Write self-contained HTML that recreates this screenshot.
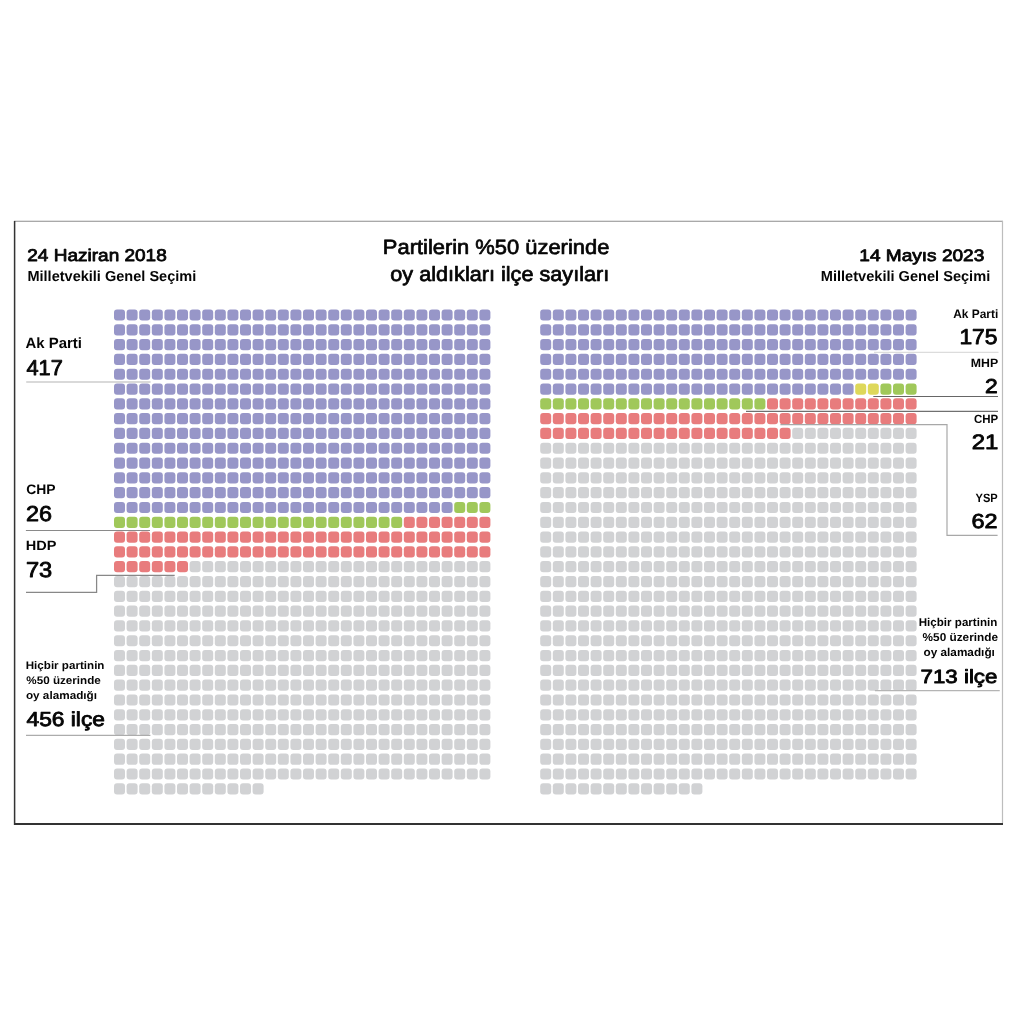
<!DOCTYPE html><html><head><meta charset="utf-8"><style>
html,body{margin:0;padding:0;background:#fff;}
svg{display:block;}
g.t{will-change:transform}
text{font-family:"Liberation Sans",sans-serif;fill:#050505;text-rendering:geometricPrecision;}
</style></head><body>
<svg width="1024" height="1024" viewBox="0 0 1024 1024">
<defs><rect id="c" width="11.0" height="11.2" rx="3.0" ry="3.0"/></defs>
<g fill="#9796c8"><use href="#c" x="114.00" y="309.40"/><use href="#c" x="126.60" y="309.40"/><use href="#c" x="139.20" y="309.40"/><use href="#c" x="151.80" y="309.40"/><use href="#c" x="164.40" y="309.40"/><use href="#c" x="177.00" y="309.40"/><use href="#c" x="189.60" y="309.40"/><use href="#c" x="202.20" y="309.40"/><use href="#c" x="214.80" y="309.40"/><use href="#c" x="227.40" y="309.40"/><use href="#c" x="240.00" y="309.40"/><use href="#c" x="252.60" y="309.40"/><use href="#c" x="265.20" y="309.40"/><use href="#c" x="277.80" y="309.40"/><use href="#c" x="290.40" y="309.40"/><use href="#c" x="303.00" y="309.40"/><use href="#c" x="315.60" y="309.40"/><use href="#c" x="328.20" y="309.40"/><use href="#c" x="340.80" y="309.40"/><use href="#c" x="353.40" y="309.40"/><use href="#c" x="366.00" y="309.40"/><use href="#c" x="378.60" y="309.40"/><use href="#c" x="391.20" y="309.40"/><use href="#c" x="403.80" y="309.40"/><use href="#c" x="416.40" y="309.40"/><use href="#c" x="429.00" y="309.40"/><use href="#c" x="441.60" y="309.40"/><use href="#c" x="454.20" y="309.40"/><use href="#c" x="466.80" y="309.40"/><use href="#c" x="479.40" y="309.40"/><use href="#c" x="114.00" y="324.21"/><use href="#c" x="126.60" y="324.21"/><use href="#c" x="139.20" y="324.21"/><use href="#c" x="151.80" y="324.21"/><use href="#c" x="164.40" y="324.21"/><use href="#c" x="177.00" y="324.21"/><use href="#c" x="189.60" y="324.21"/><use href="#c" x="202.20" y="324.21"/><use href="#c" x="214.80" y="324.21"/><use href="#c" x="227.40" y="324.21"/><use href="#c" x="240.00" y="324.21"/><use href="#c" x="252.60" y="324.21"/><use href="#c" x="265.20" y="324.21"/><use href="#c" x="277.80" y="324.21"/><use href="#c" x="290.40" y="324.21"/><use href="#c" x="303.00" y="324.21"/><use href="#c" x="315.60" y="324.21"/><use href="#c" x="328.20" y="324.21"/><use href="#c" x="340.80" y="324.21"/><use href="#c" x="353.40" y="324.21"/><use href="#c" x="366.00" y="324.21"/><use href="#c" x="378.60" y="324.21"/><use href="#c" x="391.20" y="324.21"/><use href="#c" x="403.80" y="324.21"/><use href="#c" x="416.40" y="324.21"/><use href="#c" x="429.00" y="324.21"/><use href="#c" x="441.60" y="324.21"/><use href="#c" x="454.20" y="324.21"/><use href="#c" x="466.80" y="324.21"/><use href="#c" x="479.40" y="324.21"/><use href="#c" x="114.00" y="339.01"/><use href="#c" x="126.60" y="339.01"/><use href="#c" x="139.20" y="339.01"/><use href="#c" x="151.80" y="339.01"/><use href="#c" x="164.40" y="339.01"/><use href="#c" x="177.00" y="339.01"/><use href="#c" x="189.60" y="339.01"/><use href="#c" x="202.20" y="339.01"/><use href="#c" x="214.80" y="339.01"/><use href="#c" x="227.40" y="339.01"/><use href="#c" x="240.00" y="339.01"/><use href="#c" x="252.60" y="339.01"/><use href="#c" x="265.20" y="339.01"/><use href="#c" x="277.80" y="339.01"/><use href="#c" x="290.40" y="339.01"/><use href="#c" x="303.00" y="339.01"/><use href="#c" x="315.60" y="339.01"/><use href="#c" x="328.20" y="339.01"/><use href="#c" x="340.80" y="339.01"/><use href="#c" x="353.40" y="339.01"/><use href="#c" x="366.00" y="339.01"/><use href="#c" x="378.60" y="339.01"/><use href="#c" x="391.20" y="339.01"/><use href="#c" x="403.80" y="339.01"/><use href="#c" x="416.40" y="339.01"/><use href="#c" x="429.00" y="339.01"/><use href="#c" x="441.60" y="339.01"/><use href="#c" x="454.20" y="339.01"/><use href="#c" x="466.80" y="339.01"/><use href="#c" x="479.40" y="339.01"/><use href="#c" x="114.00" y="353.82"/><use href="#c" x="126.60" y="353.82"/><use href="#c" x="139.20" y="353.82"/><use href="#c" x="151.80" y="353.82"/><use href="#c" x="164.40" y="353.82"/><use href="#c" x="177.00" y="353.82"/><use href="#c" x="189.60" y="353.82"/><use href="#c" x="202.20" y="353.82"/><use href="#c" x="214.80" y="353.82"/><use href="#c" x="227.40" y="353.82"/><use href="#c" x="240.00" y="353.82"/><use href="#c" x="252.60" y="353.82"/><use href="#c" x="265.20" y="353.82"/><use href="#c" x="277.80" y="353.82"/><use href="#c" x="290.40" y="353.82"/><use href="#c" x="303.00" y="353.82"/><use href="#c" x="315.60" y="353.82"/><use href="#c" x="328.20" y="353.82"/><use href="#c" x="340.80" y="353.82"/><use href="#c" x="353.40" y="353.82"/><use href="#c" x="366.00" y="353.82"/><use href="#c" x="378.60" y="353.82"/><use href="#c" x="391.20" y="353.82"/><use href="#c" x="403.80" y="353.82"/><use href="#c" x="416.40" y="353.82"/><use href="#c" x="429.00" y="353.82"/><use href="#c" x="441.60" y="353.82"/><use href="#c" x="454.20" y="353.82"/><use href="#c" x="466.80" y="353.82"/><use href="#c" x="479.40" y="353.82"/><use href="#c" x="114.00" y="368.63"/><use href="#c" x="126.60" y="368.63"/><use href="#c" x="139.20" y="368.63"/><use href="#c" x="151.80" y="368.63"/><use href="#c" x="164.40" y="368.63"/><use href="#c" x="177.00" y="368.63"/><use href="#c" x="189.60" y="368.63"/><use href="#c" x="202.20" y="368.63"/><use href="#c" x="214.80" y="368.63"/><use href="#c" x="227.40" y="368.63"/><use href="#c" x="240.00" y="368.63"/><use href="#c" x="252.60" y="368.63"/><use href="#c" x="265.20" y="368.63"/><use href="#c" x="277.80" y="368.63"/><use href="#c" x="290.40" y="368.63"/><use href="#c" x="303.00" y="368.63"/><use href="#c" x="315.60" y="368.63"/><use href="#c" x="328.20" y="368.63"/><use href="#c" x="340.80" y="368.63"/><use href="#c" x="353.40" y="368.63"/><use href="#c" x="366.00" y="368.63"/><use href="#c" x="378.60" y="368.63"/><use href="#c" x="391.20" y="368.63"/><use href="#c" x="403.80" y="368.63"/><use href="#c" x="416.40" y="368.63"/><use href="#c" x="429.00" y="368.63"/><use href="#c" x="441.60" y="368.63"/><use href="#c" x="454.20" y="368.63"/><use href="#c" x="466.80" y="368.63"/><use href="#c" x="479.40" y="368.63"/><use href="#c" x="114.00" y="383.43"/><use href="#c" x="126.60" y="383.43"/><use href="#c" x="139.20" y="383.43"/><use href="#c" x="151.80" y="383.43"/><use href="#c" x="164.40" y="383.43"/><use href="#c" x="177.00" y="383.43"/><use href="#c" x="189.60" y="383.43"/><use href="#c" x="202.20" y="383.43"/><use href="#c" x="214.80" y="383.43"/><use href="#c" x="227.40" y="383.43"/><use href="#c" x="240.00" y="383.43"/><use href="#c" x="252.60" y="383.43"/><use href="#c" x="265.20" y="383.43"/><use href="#c" x="277.80" y="383.43"/><use href="#c" x="290.40" y="383.43"/><use href="#c" x="303.00" y="383.43"/><use href="#c" x="315.60" y="383.43"/><use href="#c" x="328.20" y="383.43"/><use href="#c" x="340.80" y="383.43"/><use href="#c" x="353.40" y="383.43"/><use href="#c" x="366.00" y="383.43"/><use href="#c" x="378.60" y="383.43"/><use href="#c" x="391.20" y="383.43"/><use href="#c" x="403.80" y="383.43"/><use href="#c" x="416.40" y="383.43"/><use href="#c" x="429.00" y="383.43"/><use href="#c" x="441.60" y="383.43"/><use href="#c" x="454.20" y="383.43"/><use href="#c" x="466.80" y="383.43"/><use href="#c" x="479.40" y="383.43"/><use href="#c" x="114.00" y="398.24"/><use href="#c" x="126.60" y="398.24"/><use href="#c" x="139.20" y="398.24"/><use href="#c" x="151.80" y="398.24"/><use href="#c" x="164.40" y="398.24"/><use href="#c" x="177.00" y="398.24"/><use href="#c" x="189.60" y="398.24"/><use href="#c" x="202.20" y="398.24"/><use href="#c" x="214.80" y="398.24"/><use href="#c" x="227.40" y="398.24"/><use href="#c" x="240.00" y="398.24"/><use href="#c" x="252.60" y="398.24"/><use href="#c" x="265.20" y="398.24"/><use href="#c" x="277.80" y="398.24"/><use href="#c" x="290.40" y="398.24"/><use href="#c" x="303.00" y="398.24"/><use href="#c" x="315.60" y="398.24"/><use href="#c" x="328.20" y="398.24"/><use href="#c" x="340.80" y="398.24"/><use href="#c" x="353.40" y="398.24"/><use href="#c" x="366.00" y="398.24"/><use href="#c" x="378.60" y="398.24"/><use href="#c" x="391.20" y="398.24"/><use href="#c" x="403.80" y="398.24"/><use href="#c" x="416.40" y="398.24"/><use href="#c" x="429.00" y="398.24"/><use href="#c" x="441.60" y="398.24"/><use href="#c" x="454.20" y="398.24"/><use href="#c" x="466.80" y="398.24"/><use href="#c" x="479.40" y="398.24"/><use href="#c" x="114.00" y="413.05"/><use href="#c" x="126.60" y="413.05"/><use href="#c" x="139.20" y="413.05"/><use href="#c" x="151.80" y="413.05"/><use href="#c" x="164.40" y="413.05"/><use href="#c" x="177.00" y="413.05"/><use href="#c" x="189.60" y="413.05"/><use href="#c" x="202.20" y="413.05"/><use href="#c" x="214.80" y="413.05"/><use href="#c" x="227.40" y="413.05"/><use href="#c" x="240.00" y="413.05"/><use href="#c" x="252.60" y="413.05"/><use href="#c" x="265.20" y="413.05"/><use href="#c" x="277.80" y="413.05"/><use href="#c" x="290.40" y="413.05"/><use href="#c" x="303.00" y="413.05"/><use href="#c" x="315.60" y="413.05"/><use href="#c" x="328.20" y="413.05"/><use href="#c" x="340.80" y="413.05"/><use href="#c" x="353.40" y="413.05"/><use href="#c" x="366.00" y="413.05"/><use href="#c" x="378.60" y="413.05"/><use href="#c" x="391.20" y="413.05"/><use href="#c" x="403.80" y="413.05"/><use href="#c" x="416.40" y="413.05"/><use href="#c" x="429.00" y="413.05"/><use href="#c" x="441.60" y="413.05"/><use href="#c" x="454.20" y="413.05"/><use href="#c" x="466.80" y="413.05"/><use href="#c" x="479.40" y="413.05"/><use href="#c" x="114.00" y="427.86"/><use href="#c" x="126.60" y="427.86"/><use href="#c" x="139.20" y="427.86"/><use href="#c" x="151.80" y="427.86"/><use href="#c" x="164.40" y="427.86"/><use href="#c" x="177.00" y="427.86"/><use href="#c" x="189.60" y="427.86"/><use href="#c" x="202.20" y="427.86"/><use href="#c" x="214.80" y="427.86"/><use href="#c" x="227.40" y="427.86"/><use href="#c" x="240.00" y="427.86"/><use href="#c" x="252.60" y="427.86"/><use href="#c" x="265.20" y="427.86"/><use href="#c" x="277.80" y="427.86"/><use href="#c" x="290.40" y="427.86"/><use href="#c" x="303.00" y="427.86"/><use href="#c" x="315.60" y="427.86"/><use href="#c" x="328.20" y="427.86"/><use href="#c" x="340.80" y="427.86"/><use href="#c" x="353.40" y="427.86"/><use href="#c" x="366.00" y="427.86"/><use href="#c" x="378.60" y="427.86"/><use href="#c" x="391.20" y="427.86"/><use href="#c" x="403.80" y="427.86"/><use href="#c" x="416.40" y="427.86"/><use href="#c" x="429.00" y="427.86"/><use href="#c" x="441.60" y="427.86"/><use href="#c" x="454.20" y="427.86"/><use href="#c" x="466.80" y="427.86"/><use href="#c" x="479.40" y="427.86"/><use href="#c" x="114.00" y="442.66"/><use href="#c" x="126.60" y="442.66"/><use href="#c" x="139.20" y="442.66"/><use href="#c" x="151.80" y="442.66"/><use href="#c" x="164.40" y="442.66"/><use href="#c" x="177.00" y="442.66"/><use href="#c" x="189.60" y="442.66"/><use href="#c" x="202.20" y="442.66"/><use href="#c" x="214.80" y="442.66"/><use href="#c" x="227.40" y="442.66"/><use href="#c" x="240.00" y="442.66"/><use href="#c" x="252.60" y="442.66"/><use href="#c" x="265.20" y="442.66"/><use href="#c" x="277.80" y="442.66"/><use href="#c" x="290.40" y="442.66"/><use href="#c" x="303.00" y="442.66"/><use href="#c" x="315.60" y="442.66"/><use href="#c" x="328.20" y="442.66"/><use href="#c" x="340.80" y="442.66"/><use href="#c" x="353.40" y="442.66"/><use href="#c" x="366.00" y="442.66"/><use href="#c" x="378.60" y="442.66"/><use href="#c" x="391.20" y="442.66"/><use href="#c" x="403.80" y="442.66"/><use href="#c" x="416.40" y="442.66"/><use href="#c" x="429.00" y="442.66"/><use href="#c" x="441.60" y="442.66"/><use href="#c" x="454.20" y="442.66"/><use href="#c" x="466.80" y="442.66"/><use href="#c" x="479.40" y="442.66"/><use href="#c" x="114.00" y="457.47"/><use href="#c" x="126.60" y="457.47"/><use href="#c" x="139.20" y="457.47"/><use href="#c" x="151.80" y="457.47"/><use href="#c" x="164.40" y="457.47"/><use href="#c" x="177.00" y="457.47"/><use href="#c" x="189.60" y="457.47"/><use href="#c" x="202.20" y="457.47"/><use href="#c" x="214.80" y="457.47"/><use href="#c" x="227.40" y="457.47"/><use href="#c" x="240.00" y="457.47"/><use href="#c" x="252.60" y="457.47"/><use href="#c" x="265.20" y="457.47"/><use href="#c" x="277.80" y="457.47"/><use href="#c" x="290.40" y="457.47"/><use href="#c" x="303.00" y="457.47"/><use href="#c" x="315.60" y="457.47"/><use href="#c" x="328.20" y="457.47"/><use href="#c" x="340.80" y="457.47"/><use href="#c" x="353.40" y="457.47"/><use href="#c" x="366.00" y="457.47"/><use href="#c" x="378.60" y="457.47"/><use href="#c" x="391.20" y="457.47"/><use href="#c" x="403.80" y="457.47"/><use href="#c" x="416.40" y="457.47"/><use href="#c" x="429.00" y="457.47"/><use href="#c" x="441.60" y="457.47"/><use href="#c" x="454.20" y="457.47"/><use href="#c" x="466.80" y="457.47"/><use href="#c" x="479.40" y="457.47"/><use href="#c" x="114.00" y="472.28"/><use href="#c" x="126.60" y="472.28"/><use href="#c" x="139.20" y="472.28"/><use href="#c" x="151.80" y="472.28"/><use href="#c" x="164.40" y="472.28"/><use href="#c" x="177.00" y="472.28"/><use href="#c" x="189.60" y="472.28"/><use href="#c" x="202.20" y="472.28"/><use href="#c" x="214.80" y="472.28"/><use href="#c" x="227.40" y="472.28"/><use href="#c" x="240.00" y="472.28"/><use href="#c" x="252.60" y="472.28"/><use href="#c" x="265.20" y="472.28"/><use href="#c" x="277.80" y="472.28"/><use href="#c" x="290.40" y="472.28"/><use href="#c" x="303.00" y="472.28"/><use href="#c" x="315.60" y="472.28"/><use href="#c" x="328.20" y="472.28"/><use href="#c" x="340.80" y="472.28"/><use href="#c" x="353.40" y="472.28"/><use href="#c" x="366.00" y="472.28"/><use href="#c" x="378.60" y="472.28"/><use href="#c" x="391.20" y="472.28"/><use href="#c" x="403.80" y="472.28"/><use href="#c" x="416.40" y="472.28"/><use href="#c" x="429.00" y="472.28"/><use href="#c" x="441.60" y="472.28"/><use href="#c" x="454.20" y="472.28"/><use href="#c" x="466.80" y="472.28"/><use href="#c" x="479.40" y="472.28"/><use href="#c" x="114.00" y="487.08"/><use href="#c" x="126.60" y="487.08"/><use href="#c" x="139.20" y="487.08"/><use href="#c" x="151.80" y="487.08"/><use href="#c" x="164.40" y="487.08"/><use href="#c" x="177.00" y="487.08"/><use href="#c" x="189.60" y="487.08"/><use href="#c" x="202.20" y="487.08"/><use href="#c" x="214.80" y="487.08"/><use href="#c" x="227.40" y="487.08"/><use href="#c" x="240.00" y="487.08"/><use href="#c" x="252.60" y="487.08"/><use href="#c" x="265.20" y="487.08"/><use href="#c" x="277.80" y="487.08"/><use href="#c" x="290.40" y="487.08"/><use href="#c" x="303.00" y="487.08"/><use href="#c" x="315.60" y="487.08"/><use href="#c" x="328.20" y="487.08"/><use href="#c" x="340.80" y="487.08"/><use href="#c" x="353.40" y="487.08"/><use href="#c" x="366.00" y="487.08"/><use href="#c" x="378.60" y="487.08"/><use href="#c" x="391.20" y="487.08"/><use href="#c" x="403.80" y="487.08"/><use href="#c" x="416.40" y="487.08"/><use href="#c" x="429.00" y="487.08"/><use href="#c" x="441.60" y="487.08"/><use href="#c" x="454.20" y="487.08"/><use href="#c" x="466.80" y="487.08"/><use href="#c" x="479.40" y="487.08"/><use href="#c" x="114.00" y="501.89"/><use href="#c" x="126.60" y="501.89"/><use href="#c" x="139.20" y="501.89"/><use href="#c" x="151.80" y="501.89"/><use href="#c" x="164.40" y="501.89"/><use href="#c" x="177.00" y="501.89"/><use href="#c" x="189.60" y="501.89"/><use href="#c" x="202.20" y="501.89"/><use href="#c" x="214.80" y="501.89"/><use href="#c" x="227.40" y="501.89"/><use href="#c" x="240.00" y="501.89"/><use href="#c" x="252.60" y="501.89"/><use href="#c" x="265.20" y="501.89"/><use href="#c" x="277.80" y="501.89"/><use href="#c" x="290.40" y="501.89"/><use href="#c" x="303.00" y="501.89"/><use href="#c" x="315.60" y="501.89"/><use href="#c" x="328.20" y="501.89"/><use href="#c" x="340.80" y="501.89"/><use href="#c" x="353.40" y="501.89"/><use href="#c" x="366.00" y="501.89"/><use href="#c" x="378.60" y="501.89"/><use href="#c" x="391.20" y="501.89"/><use href="#c" x="403.80" y="501.89"/><use href="#c" x="416.40" y="501.89"/><use href="#c" x="429.00" y="501.89"/><use href="#c" x="441.60" y="501.89"/></g>
<g fill="#a0c85a"><use href="#c" x="454.20" y="501.89"/><use href="#c" x="466.80" y="501.89"/><use href="#c" x="479.40" y="501.89"/><use href="#c" x="114.00" y="516.70"/><use href="#c" x="126.60" y="516.70"/><use href="#c" x="139.20" y="516.70"/><use href="#c" x="151.80" y="516.70"/><use href="#c" x="164.40" y="516.70"/><use href="#c" x="177.00" y="516.70"/><use href="#c" x="189.60" y="516.70"/><use href="#c" x="202.20" y="516.70"/><use href="#c" x="214.80" y="516.70"/><use href="#c" x="227.40" y="516.70"/><use href="#c" x="240.00" y="516.70"/><use href="#c" x="252.60" y="516.70"/><use href="#c" x="265.20" y="516.70"/><use href="#c" x="277.80" y="516.70"/><use href="#c" x="290.40" y="516.70"/><use href="#c" x="303.00" y="516.70"/><use href="#c" x="315.60" y="516.70"/><use href="#c" x="328.20" y="516.70"/><use href="#c" x="340.80" y="516.70"/><use href="#c" x="353.40" y="516.70"/><use href="#c" x="366.00" y="516.70"/><use href="#c" x="378.60" y="516.70"/><use href="#c" x="391.20" y="516.70"/></g>
<g fill="#e87c7d"><use href="#c" x="403.80" y="516.70"/><use href="#c" x="416.40" y="516.70"/><use href="#c" x="429.00" y="516.70"/><use href="#c" x="441.60" y="516.70"/><use href="#c" x="454.20" y="516.70"/><use href="#c" x="466.80" y="516.70"/><use href="#c" x="479.40" y="516.70"/><use href="#c" x="114.00" y="531.50"/><use href="#c" x="126.60" y="531.50"/><use href="#c" x="139.20" y="531.50"/><use href="#c" x="151.80" y="531.50"/><use href="#c" x="164.40" y="531.50"/><use href="#c" x="177.00" y="531.50"/><use href="#c" x="189.60" y="531.50"/><use href="#c" x="202.20" y="531.50"/><use href="#c" x="214.80" y="531.50"/><use href="#c" x="227.40" y="531.50"/><use href="#c" x="240.00" y="531.50"/><use href="#c" x="252.60" y="531.50"/><use href="#c" x="265.20" y="531.50"/><use href="#c" x="277.80" y="531.50"/><use href="#c" x="290.40" y="531.50"/><use href="#c" x="303.00" y="531.50"/><use href="#c" x="315.60" y="531.50"/><use href="#c" x="328.20" y="531.50"/><use href="#c" x="340.80" y="531.50"/><use href="#c" x="353.40" y="531.50"/><use href="#c" x="366.00" y="531.50"/><use href="#c" x="378.60" y="531.50"/><use href="#c" x="391.20" y="531.50"/><use href="#c" x="403.80" y="531.50"/><use href="#c" x="416.40" y="531.50"/><use href="#c" x="429.00" y="531.50"/><use href="#c" x="441.60" y="531.50"/><use href="#c" x="454.20" y="531.50"/><use href="#c" x="466.80" y="531.50"/><use href="#c" x="479.40" y="531.50"/><use href="#c" x="114.00" y="546.31"/><use href="#c" x="126.60" y="546.31"/><use href="#c" x="139.20" y="546.31"/><use href="#c" x="151.80" y="546.31"/><use href="#c" x="164.40" y="546.31"/><use href="#c" x="177.00" y="546.31"/><use href="#c" x="189.60" y="546.31"/><use href="#c" x="202.20" y="546.31"/><use href="#c" x="214.80" y="546.31"/><use href="#c" x="227.40" y="546.31"/><use href="#c" x="240.00" y="546.31"/><use href="#c" x="252.60" y="546.31"/><use href="#c" x="265.20" y="546.31"/><use href="#c" x="277.80" y="546.31"/><use href="#c" x="290.40" y="546.31"/><use href="#c" x="303.00" y="546.31"/><use href="#c" x="315.60" y="546.31"/><use href="#c" x="328.20" y="546.31"/><use href="#c" x="340.80" y="546.31"/><use href="#c" x="353.40" y="546.31"/><use href="#c" x="366.00" y="546.31"/><use href="#c" x="378.60" y="546.31"/><use href="#c" x="391.20" y="546.31"/><use href="#c" x="403.80" y="546.31"/><use href="#c" x="416.40" y="546.31"/><use href="#c" x="429.00" y="546.31"/><use href="#c" x="441.60" y="546.31"/><use href="#c" x="454.20" y="546.31"/><use href="#c" x="466.80" y="546.31"/><use href="#c" x="479.40" y="546.31"/><use href="#c" x="114.00" y="561.12"/><use href="#c" x="126.60" y="561.12"/><use href="#c" x="139.20" y="561.12"/><use href="#c" x="151.80" y="561.12"/><use href="#c" x="164.40" y="561.12"/><use href="#c" x="177.00" y="561.12"/></g>
<g fill="#d1d2d4"><use href="#c" x="189.60" y="561.12"/><use href="#c" x="202.20" y="561.12"/><use href="#c" x="214.80" y="561.12"/><use href="#c" x="227.40" y="561.12"/><use href="#c" x="240.00" y="561.12"/><use href="#c" x="252.60" y="561.12"/><use href="#c" x="265.20" y="561.12"/><use href="#c" x="277.80" y="561.12"/><use href="#c" x="290.40" y="561.12"/><use href="#c" x="303.00" y="561.12"/><use href="#c" x="315.60" y="561.12"/><use href="#c" x="328.20" y="561.12"/><use href="#c" x="340.80" y="561.12"/><use href="#c" x="353.40" y="561.12"/><use href="#c" x="366.00" y="561.12"/><use href="#c" x="378.60" y="561.12"/><use href="#c" x="391.20" y="561.12"/><use href="#c" x="403.80" y="561.12"/><use href="#c" x="416.40" y="561.12"/><use href="#c" x="429.00" y="561.12"/><use href="#c" x="441.60" y="561.12"/><use href="#c" x="454.20" y="561.12"/><use href="#c" x="466.80" y="561.12"/><use href="#c" x="479.40" y="561.12"/><use href="#c" x="114.00" y="575.93"/><use href="#c" x="126.60" y="575.93"/><use href="#c" x="139.20" y="575.93"/><use href="#c" x="151.80" y="575.93"/><use href="#c" x="164.40" y="575.93"/><use href="#c" x="177.00" y="575.93"/><use href="#c" x="189.60" y="575.93"/><use href="#c" x="202.20" y="575.93"/><use href="#c" x="214.80" y="575.93"/><use href="#c" x="227.40" y="575.93"/><use href="#c" x="240.00" y="575.93"/><use href="#c" x="252.60" y="575.93"/><use href="#c" x="265.20" y="575.93"/><use href="#c" x="277.80" y="575.93"/><use href="#c" x="290.40" y="575.93"/><use href="#c" x="303.00" y="575.93"/><use href="#c" x="315.60" y="575.93"/><use href="#c" x="328.20" y="575.93"/><use href="#c" x="340.80" y="575.93"/><use href="#c" x="353.40" y="575.93"/><use href="#c" x="366.00" y="575.93"/><use href="#c" x="378.60" y="575.93"/><use href="#c" x="391.20" y="575.93"/><use href="#c" x="403.80" y="575.93"/><use href="#c" x="416.40" y="575.93"/><use href="#c" x="429.00" y="575.93"/><use href="#c" x="441.60" y="575.93"/><use href="#c" x="454.20" y="575.93"/><use href="#c" x="466.80" y="575.93"/><use href="#c" x="479.40" y="575.93"/><use href="#c" x="114.00" y="590.73"/><use href="#c" x="126.60" y="590.73"/><use href="#c" x="139.20" y="590.73"/><use href="#c" x="151.80" y="590.73"/><use href="#c" x="164.40" y="590.73"/><use href="#c" x="177.00" y="590.73"/><use href="#c" x="189.60" y="590.73"/><use href="#c" x="202.20" y="590.73"/><use href="#c" x="214.80" y="590.73"/><use href="#c" x="227.40" y="590.73"/><use href="#c" x="240.00" y="590.73"/><use href="#c" x="252.60" y="590.73"/><use href="#c" x="265.20" y="590.73"/><use href="#c" x="277.80" y="590.73"/><use href="#c" x="290.40" y="590.73"/><use href="#c" x="303.00" y="590.73"/><use href="#c" x="315.60" y="590.73"/><use href="#c" x="328.20" y="590.73"/><use href="#c" x="340.80" y="590.73"/><use href="#c" x="353.40" y="590.73"/><use href="#c" x="366.00" y="590.73"/><use href="#c" x="378.60" y="590.73"/><use href="#c" x="391.20" y="590.73"/><use href="#c" x="403.80" y="590.73"/><use href="#c" x="416.40" y="590.73"/><use href="#c" x="429.00" y="590.73"/><use href="#c" x="441.60" y="590.73"/><use href="#c" x="454.20" y="590.73"/><use href="#c" x="466.80" y="590.73"/><use href="#c" x="479.40" y="590.73"/><use href="#c" x="114.00" y="605.54"/><use href="#c" x="126.60" y="605.54"/><use href="#c" x="139.20" y="605.54"/><use href="#c" x="151.80" y="605.54"/><use href="#c" x="164.40" y="605.54"/><use href="#c" x="177.00" y="605.54"/><use href="#c" x="189.60" y="605.54"/><use href="#c" x="202.20" y="605.54"/><use href="#c" x="214.80" y="605.54"/><use href="#c" x="227.40" y="605.54"/><use href="#c" x="240.00" y="605.54"/><use href="#c" x="252.60" y="605.54"/><use href="#c" x="265.20" y="605.54"/><use href="#c" x="277.80" y="605.54"/><use href="#c" x="290.40" y="605.54"/><use href="#c" x="303.00" y="605.54"/><use href="#c" x="315.60" y="605.54"/><use href="#c" x="328.20" y="605.54"/><use href="#c" x="340.80" y="605.54"/><use href="#c" x="353.40" y="605.54"/><use href="#c" x="366.00" y="605.54"/><use href="#c" x="378.60" y="605.54"/><use href="#c" x="391.20" y="605.54"/><use href="#c" x="403.80" y="605.54"/><use href="#c" x="416.40" y="605.54"/><use href="#c" x="429.00" y="605.54"/><use href="#c" x="441.60" y="605.54"/><use href="#c" x="454.20" y="605.54"/><use href="#c" x="466.80" y="605.54"/><use href="#c" x="479.40" y="605.54"/><use href="#c" x="114.00" y="620.35"/><use href="#c" x="126.60" y="620.35"/><use href="#c" x="139.20" y="620.35"/><use href="#c" x="151.80" y="620.35"/><use href="#c" x="164.40" y="620.35"/><use href="#c" x="177.00" y="620.35"/><use href="#c" x="189.60" y="620.35"/><use href="#c" x="202.20" y="620.35"/><use href="#c" x="214.80" y="620.35"/><use href="#c" x="227.40" y="620.35"/><use href="#c" x="240.00" y="620.35"/><use href="#c" x="252.60" y="620.35"/><use href="#c" x="265.20" y="620.35"/><use href="#c" x="277.80" y="620.35"/><use href="#c" x="290.40" y="620.35"/><use href="#c" x="303.00" y="620.35"/><use href="#c" x="315.60" y="620.35"/><use href="#c" x="328.20" y="620.35"/><use href="#c" x="340.80" y="620.35"/><use href="#c" x="353.40" y="620.35"/><use href="#c" x="366.00" y="620.35"/><use href="#c" x="378.60" y="620.35"/><use href="#c" x="391.20" y="620.35"/><use href="#c" x="403.80" y="620.35"/><use href="#c" x="416.40" y="620.35"/><use href="#c" x="429.00" y="620.35"/><use href="#c" x="441.60" y="620.35"/><use href="#c" x="454.20" y="620.35"/><use href="#c" x="466.80" y="620.35"/><use href="#c" x="479.40" y="620.35"/><use href="#c" x="114.00" y="635.15"/><use href="#c" x="126.60" y="635.15"/><use href="#c" x="139.20" y="635.15"/><use href="#c" x="151.80" y="635.15"/><use href="#c" x="164.40" y="635.15"/><use href="#c" x="177.00" y="635.15"/><use href="#c" x="189.60" y="635.15"/><use href="#c" x="202.20" y="635.15"/><use href="#c" x="214.80" y="635.15"/><use href="#c" x="227.40" y="635.15"/><use href="#c" x="240.00" y="635.15"/><use href="#c" x="252.60" y="635.15"/><use href="#c" x="265.20" y="635.15"/><use href="#c" x="277.80" y="635.15"/><use href="#c" x="290.40" y="635.15"/><use href="#c" x="303.00" y="635.15"/><use href="#c" x="315.60" y="635.15"/><use href="#c" x="328.20" y="635.15"/><use href="#c" x="340.80" y="635.15"/><use href="#c" x="353.40" y="635.15"/><use href="#c" x="366.00" y="635.15"/><use href="#c" x="378.60" y="635.15"/><use href="#c" x="391.20" y="635.15"/><use href="#c" x="403.80" y="635.15"/><use href="#c" x="416.40" y="635.15"/><use href="#c" x="429.00" y="635.15"/><use href="#c" x="441.60" y="635.15"/><use href="#c" x="454.20" y="635.15"/><use href="#c" x="466.80" y="635.15"/><use href="#c" x="479.40" y="635.15"/><use href="#c" x="114.00" y="649.96"/><use href="#c" x="126.60" y="649.96"/><use href="#c" x="139.20" y="649.96"/><use href="#c" x="151.80" y="649.96"/><use href="#c" x="164.40" y="649.96"/><use href="#c" x="177.00" y="649.96"/><use href="#c" x="189.60" y="649.96"/><use href="#c" x="202.20" y="649.96"/><use href="#c" x="214.80" y="649.96"/><use href="#c" x="227.40" y="649.96"/><use href="#c" x="240.00" y="649.96"/><use href="#c" x="252.60" y="649.96"/><use href="#c" x="265.20" y="649.96"/><use href="#c" x="277.80" y="649.96"/><use href="#c" x="290.40" y="649.96"/><use href="#c" x="303.00" y="649.96"/><use href="#c" x="315.60" y="649.96"/><use href="#c" x="328.20" y="649.96"/><use href="#c" x="340.80" y="649.96"/><use href="#c" x="353.40" y="649.96"/><use href="#c" x="366.00" y="649.96"/><use href="#c" x="378.60" y="649.96"/><use href="#c" x="391.20" y="649.96"/><use href="#c" x="403.80" y="649.96"/><use href="#c" x="416.40" y="649.96"/><use href="#c" x="429.00" y="649.96"/><use href="#c" x="441.60" y="649.96"/><use href="#c" x="454.20" y="649.96"/><use href="#c" x="466.80" y="649.96"/><use href="#c" x="479.40" y="649.96"/><use href="#c" x="114.00" y="664.77"/><use href="#c" x="126.60" y="664.77"/><use href="#c" x="139.20" y="664.77"/><use href="#c" x="151.80" y="664.77"/><use href="#c" x="164.40" y="664.77"/><use href="#c" x="177.00" y="664.77"/><use href="#c" x="189.60" y="664.77"/><use href="#c" x="202.20" y="664.77"/><use href="#c" x="214.80" y="664.77"/><use href="#c" x="227.40" y="664.77"/><use href="#c" x="240.00" y="664.77"/><use href="#c" x="252.60" y="664.77"/><use href="#c" x="265.20" y="664.77"/><use href="#c" x="277.80" y="664.77"/><use href="#c" x="290.40" y="664.77"/><use href="#c" x="303.00" y="664.77"/><use href="#c" x="315.60" y="664.77"/><use href="#c" x="328.20" y="664.77"/><use href="#c" x="340.80" y="664.77"/><use href="#c" x="353.40" y="664.77"/><use href="#c" x="366.00" y="664.77"/><use href="#c" x="378.60" y="664.77"/><use href="#c" x="391.20" y="664.77"/><use href="#c" x="403.80" y="664.77"/><use href="#c" x="416.40" y="664.77"/><use href="#c" x="429.00" y="664.77"/><use href="#c" x="441.60" y="664.77"/><use href="#c" x="454.20" y="664.77"/><use href="#c" x="466.80" y="664.77"/><use href="#c" x="479.40" y="664.77"/><use href="#c" x="114.00" y="679.58"/><use href="#c" x="126.60" y="679.58"/><use href="#c" x="139.20" y="679.58"/><use href="#c" x="151.80" y="679.58"/><use href="#c" x="164.40" y="679.58"/><use href="#c" x="177.00" y="679.58"/><use href="#c" x="189.60" y="679.58"/><use href="#c" x="202.20" y="679.58"/><use href="#c" x="214.80" y="679.58"/><use href="#c" x="227.40" y="679.58"/><use href="#c" x="240.00" y="679.58"/><use href="#c" x="252.60" y="679.58"/><use href="#c" x="265.20" y="679.58"/><use href="#c" x="277.80" y="679.58"/><use href="#c" x="290.40" y="679.58"/><use href="#c" x="303.00" y="679.58"/><use href="#c" x="315.60" y="679.58"/><use href="#c" x="328.20" y="679.58"/><use href="#c" x="340.80" y="679.58"/><use href="#c" x="353.40" y="679.58"/><use href="#c" x="366.00" y="679.58"/><use href="#c" x="378.60" y="679.58"/><use href="#c" x="391.20" y="679.58"/><use href="#c" x="403.80" y="679.58"/><use href="#c" x="416.40" y="679.58"/><use href="#c" x="429.00" y="679.58"/><use href="#c" x="441.60" y="679.58"/><use href="#c" x="454.20" y="679.58"/><use href="#c" x="466.80" y="679.58"/><use href="#c" x="479.40" y="679.58"/><use href="#c" x="114.00" y="694.38"/><use href="#c" x="126.60" y="694.38"/><use href="#c" x="139.20" y="694.38"/><use href="#c" x="151.80" y="694.38"/><use href="#c" x="164.40" y="694.38"/><use href="#c" x="177.00" y="694.38"/><use href="#c" x="189.60" y="694.38"/><use href="#c" x="202.20" y="694.38"/><use href="#c" x="214.80" y="694.38"/><use href="#c" x="227.40" y="694.38"/><use href="#c" x="240.00" y="694.38"/><use href="#c" x="252.60" y="694.38"/><use href="#c" x="265.20" y="694.38"/><use href="#c" x="277.80" y="694.38"/><use href="#c" x="290.40" y="694.38"/><use href="#c" x="303.00" y="694.38"/><use href="#c" x="315.60" y="694.38"/><use href="#c" x="328.20" y="694.38"/><use href="#c" x="340.80" y="694.38"/><use href="#c" x="353.40" y="694.38"/><use href="#c" x="366.00" y="694.38"/><use href="#c" x="378.60" y="694.38"/><use href="#c" x="391.20" y="694.38"/><use href="#c" x="403.80" y="694.38"/><use href="#c" x="416.40" y="694.38"/><use href="#c" x="429.00" y="694.38"/><use href="#c" x="441.60" y="694.38"/><use href="#c" x="454.20" y="694.38"/><use href="#c" x="466.80" y="694.38"/><use href="#c" x="479.40" y="694.38"/><use href="#c" x="114.00" y="709.19"/><use href="#c" x="126.60" y="709.19"/><use href="#c" x="139.20" y="709.19"/><use href="#c" x="151.80" y="709.19"/><use href="#c" x="164.40" y="709.19"/><use href="#c" x="177.00" y="709.19"/><use href="#c" x="189.60" y="709.19"/><use href="#c" x="202.20" y="709.19"/><use href="#c" x="214.80" y="709.19"/><use href="#c" x="227.40" y="709.19"/><use href="#c" x="240.00" y="709.19"/><use href="#c" x="252.60" y="709.19"/><use href="#c" x="265.20" y="709.19"/><use href="#c" x="277.80" y="709.19"/><use href="#c" x="290.40" y="709.19"/><use href="#c" x="303.00" y="709.19"/><use href="#c" x="315.60" y="709.19"/><use href="#c" x="328.20" y="709.19"/><use href="#c" x="340.80" y="709.19"/><use href="#c" x="353.40" y="709.19"/><use href="#c" x="366.00" y="709.19"/><use href="#c" x="378.60" y="709.19"/><use href="#c" x="391.20" y="709.19"/><use href="#c" x="403.80" y="709.19"/><use href="#c" x="416.40" y="709.19"/><use href="#c" x="429.00" y="709.19"/><use href="#c" x="441.60" y="709.19"/><use href="#c" x="454.20" y="709.19"/><use href="#c" x="466.80" y="709.19"/><use href="#c" x="479.40" y="709.19"/><use href="#c" x="114.00" y="724.00"/><use href="#c" x="126.60" y="724.00"/><use href="#c" x="139.20" y="724.00"/><use href="#c" x="151.80" y="724.00"/><use href="#c" x="164.40" y="724.00"/><use href="#c" x="177.00" y="724.00"/><use href="#c" x="189.60" y="724.00"/><use href="#c" x="202.20" y="724.00"/><use href="#c" x="214.80" y="724.00"/><use href="#c" x="227.40" y="724.00"/><use href="#c" x="240.00" y="724.00"/><use href="#c" x="252.60" y="724.00"/><use href="#c" x="265.20" y="724.00"/><use href="#c" x="277.80" y="724.00"/><use href="#c" x="290.40" y="724.00"/><use href="#c" x="303.00" y="724.00"/><use href="#c" x="315.60" y="724.00"/><use href="#c" x="328.20" y="724.00"/><use href="#c" x="340.80" y="724.00"/><use href="#c" x="353.40" y="724.00"/><use href="#c" x="366.00" y="724.00"/><use href="#c" x="378.60" y="724.00"/><use href="#c" x="391.20" y="724.00"/><use href="#c" x="403.80" y="724.00"/><use href="#c" x="416.40" y="724.00"/><use href="#c" x="429.00" y="724.00"/><use href="#c" x="441.60" y="724.00"/><use href="#c" x="454.20" y="724.00"/><use href="#c" x="466.80" y="724.00"/><use href="#c" x="479.40" y="724.00"/><use href="#c" x="114.00" y="738.80"/><use href="#c" x="126.60" y="738.80"/><use href="#c" x="139.20" y="738.80"/><use href="#c" x="151.80" y="738.80"/><use href="#c" x="164.40" y="738.80"/><use href="#c" x="177.00" y="738.80"/><use href="#c" x="189.60" y="738.80"/><use href="#c" x="202.20" y="738.80"/><use href="#c" x="214.80" y="738.80"/><use href="#c" x="227.40" y="738.80"/><use href="#c" x="240.00" y="738.80"/><use href="#c" x="252.60" y="738.80"/><use href="#c" x="265.20" y="738.80"/><use href="#c" x="277.80" y="738.80"/><use href="#c" x="290.40" y="738.80"/><use href="#c" x="303.00" y="738.80"/><use href="#c" x="315.60" y="738.80"/><use href="#c" x="328.20" y="738.80"/><use href="#c" x="340.80" y="738.80"/><use href="#c" x="353.40" y="738.80"/><use href="#c" x="366.00" y="738.80"/><use href="#c" x="378.60" y="738.80"/><use href="#c" x="391.20" y="738.80"/><use href="#c" x="403.80" y="738.80"/><use href="#c" x="416.40" y="738.80"/><use href="#c" x="429.00" y="738.80"/><use href="#c" x="441.60" y="738.80"/><use href="#c" x="454.20" y="738.80"/><use href="#c" x="466.80" y="738.80"/><use href="#c" x="479.40" y="738.80"/><use href="#c" x="114.00" y="753.61"/><use href="#c" x="126.60" y="753.61"/><use href="#c" x="139.20" y="753.61"/><use href="#c" x="151.80" y="753.61"/><use href="#c" x="164.40" y="753.61"/><use href="#c" x="177.00" y="753.61"/><use href="#c" x="189.60" y="753.61"/><use href="#c" x="202.20" y="753.61"/><use href="#c" x="214.80" y="753.61"/><use href="#c" x="227.40" y="753.61"/><use href="#c" x="240.00" y="753.61"/><use href="#c" x="252.60" y="753.61"/><use href="#c" x="265.20" y="753.61"/><use href="#c" x="277.80" y="753.61"/><use href="#c" x="290.40" y="753.61"/><use href="#c" x="303.00" y="753.61"/><use href="#c" x="315.60" y="753.61"/><use href="#c" x="328.20" y="753.61"/><use href="#c" x="340.80" y="753.61"/><use href="#c" x="353.40" y="753.61"/><use href="#c" x="366.00" y="753.61"/><use href="#c" x="378.60" y="753.61"/><use href="#c" x="391.20" y="753.61"/><use href="#c" x="403.80" y="753.61"/><use href="#c" x="416.40" y="753.61"/><use href="#c" x="429.00" y="753.61"/><use href="#c" x="441.60" y="753.61"/><use href="#c" x="454.20" y="753.61"/><use href="#c" x="466.80" y="753.61"/><use href="#c" x="479.40" y="753.61"/><use href="#c" x="114.00" y="768.42"/><use href="#c" x="126.60" y="768.42"/><use href="#c" x="139.20" y="768.42"/><use href="#c" x="151.80" y="768.42"/><use href="#c" x="164.40" y="768.42"/><use href="#c" x="177.00" y="768.42"/><use href="#c" x="189.60" y="768.42"/><use href="#c" x="202.20" y="768.42"/><use href="#c" x="214.80" y="768.42"/><use href="#c" x="227.40" y="768.42"/><use href="#c" x="240.00" y="768.42"/><use href="#c" x="252.60" y="768.42"/><use href="#c" x="265.20" y="768.42"/><use href="#c" x="277.80" y="768.42"/><use href="#c" x="290.40" y="768.42"/><use href="#c" x="303.00" y="768.42"/><use href="#c" x="315.60" y="768.42"/><use href="#c" x="328.20" y="768.42"/><use href="#c" x="340.80" y="768.42"/><use href="#c" x="353.40" y="768.42"/><use href="#c" x="366.00" y="768.42"/><use href="#c" x="378.60" y="768.42"/><use href="#c" x="391.20" y="768.42"/><use href="#c" x="403.80" y="768.42"/><use href="#c" x="416.40" y="768.42"/><use href="#c" x="429.00" y="768.42"/><use href="#c" x="441.60" y="768.42"/><use href="#c" x="454.20" y="768.42"/><use href="#c" x="466.80" y="768.42"/><use href="#c" x="479.40" y="768.42"/><use href="#c" x="114.00" y="783.22"/><use href="#c" x="126.60" y="783.22"/><use href="#c" x="139.20" y="783.22"/><use href="#c" x="151.80" y="783.22"/><use href="#c" x="164.40" y="783.22"/><use href="#c" x="177.00" y="783.22"/><use href="#c" x="189.60" y="783.22"/><use href="#c" x="202.20" y="783.22"/><use href="#c" x="214.80" y="783.22"/><use href="#c" x="227.40" y="783.22"/><use href="#c" x="240.00" y="783.22"/><use href="#c" x="252.60" y="783.22"/></g>
<g fill="#9796c8"><use href="#c" x="540.20" y="309.40"/><use href="#c" x="552.80" y="309.40"/><use href="#c" x="565.40" y="309.40"/><use href="#c" x="578.00" y="309.40"/><use href="#c" x="590.60" y="309.40"/><use href="#c" x="603.20" y="309.40"/><use href="#c" x="615.80" y="309.40"/><use href="#c" x="628.40" y="309.40"/><use href="#c" x="641.00" y="309.40"/><use href="#c" x="653.60" y="309.40"/><use href="#c" x="666.20" y="309.40"/><use href="#c" x="678.80" y="309.40"/><use href="#c" x="691.40" y="309.40"/><use href="#c" x="704.00" y="309.40"/><use href="#c" x="716.60" y="309.40"/><use href="#c" x="729.20" y="309.40"/><use href="#c" x="741.80" y="309.40"/><use href="#c" x="754.40" y="309.40"/><use href="#c" x="767.00" y="309.40"/><use href="#c" x="779.60" y="309.40"/><use href="#c" x="792.20" y="309.40"/><use href="#c" x="804.80" y="309.40"/><use href="#c" x="817.40" y="309.40"/><use href="#c" x="830.00" y="309.40"/><use href="#c" x="842.60" y="309.40"/><use href="#c" x="855.20" y="309.40"/><use href="#c" x="867.80" y="309.40"/><use href="#c" x="880.40" y="309.40"/><use href="#c" x="893.00" y="309.40"/><use href="#c" x="905.60" y="309.40"/><use href="#c" x="540.20" y="324.21"/><use href="#c" x="552.80" y="324.21"/><use href="#c" x="565.40" y="324.21"/><use href="#c" x="578.00" y="324.21"/><use href="#c" x="590.60" y="324.21"/><use href="#c" x="603.20" y="324.21"/><use href="#c" x="615.80" y="324.21"/><use href="#c" x="628.40" y="324.21"/><use href="#c" x="641.00" y="324.21"/><use href="#c" x="653.60" y="324.21"/><use href="#c" x="666.20" y="324.21"/><use href="#c" x="678.80" y="324.21"/><use href="#c" x="691.40" y="324.21"/><use href="#c" x="704.00" y="324.21"/><use href="#c" x="716.60" y="324.21"/><use href="#c" x="729.20" y="324.21"/><use href="#c" x="741.80" y="324.21"/><use href="#c" x="754.40" y="324.21"/><use href="#c" x="767.00" y="324.21"/><use href="#c" x="779.60" y="324.21"/><use href="#c" x="792.20" y="324.21"/><use href="#c" x="804.80" y="324.21"/><use href="#c" x="817.40" y="324.21"/><use href="#c" x="830.00" y="324.21"/><use href="#c" x="842.60" y="324.21"/><use href="#c" x="855.20" y="324.21"/><use href="#c" x="867.80" y="324.21"/><use href="#c" x="880.40" y="324.21"/><use href="#c" x="893.00" y="324.21"/><use href="#c" x="905.60" y="324.21"/><use href="#c" x="540.20" y="339.01"/><use href="#c" x="552.80" y="339.01"/><use href="#c" x="565.40" y="339.01"/><use href="#c" x="578.00" y="339.01"/><use href="#c" x="590.60" y="339.01"/><use href="#c" x="603.20" y="339.01"/><use href="#c" x="615.80" y="339.01"/><use href="#c" x="628.40" y="339.01"/><use href="#c" x="641.00" y="339.01"/><use href="#c" x="653.60" y="339.01"/><use href="#c" x="666.20" y="339.01"/><use href="#c" x="678.80" y="339.01"/><use href="#c" x="691.40" y="339.01"/><use href="#c" x="704.00" y="339.01"/><use href="#c" x="716.60" y="339.01"/><use href="#c" x="729.20" y="339.01"/><use href="#c" x="741.80" y="339.01"/><use href="#c" x="754.40" y="339.01"/><use href="#c" x="767.00" y="339.01"/><use href="#c" x="779.60" y="339.01"/><use href="#c" x="792.20" y="339.01"/><use href="#c" x="804.80" y="339.01"/><use href="#c" x="817.40" y="339.01"/><use href="#c" x="830.00" y="339.01"/><use href="#c" x="842.60" y="339.01"/><use href="#c" x="855.20" y="339.01"/><use href="#c" x="867.80" y="339.01"/><use href="#c" x="880.40" y="339.01"/><use href="#c" x="893.00" y="339.01"/><use href="#c" x="905.60" y="339.01"/><use href="#c" x="540.20" y="353.82"/><use href="#c" x="552.80" y="353.82"/><use href="#c" x="565.40" y="353.82"/><use href="#c" x="578.00" y="353.82"/><use href="#c" x="590.60" y="353.82"/><use href="#c" x="603.20" y="353.82"/><use href="#c" x="615.80" y="353.82"/><use href="#c" x="628.40" y="353.82"/><use href="#c" x="641.00" y="353.82"/><use href="#c" x="653.60" y="353.82"/><use href="#c" x="666.20" y="353.82"/><use href="#c" x="678.80" y="353.82"/><use href="#c" x="691.40" y="353.82"/><use href="#c" x="704.00" y="353.82"/><use href="#c" x="716.60" y="353.82"/><use href="#c" x="729.20" y="353.82"/><use href="#c" x="741.80" y="353.82"/><use href="#c" x="754.40" y="353.82"/><use href="#c" x="767.00" y="353.82"/><use href="#c" x="779.60" y="353.82"/><use href="#c" x="792.20" y="353.82"/><use href="#c" x="804.80" y="353.82"/><use href="#c" x="817.40" y="353.82"/><use href="#c" x="830.00" y="353.82"/><use href="#c" x="842.60" y="353.82"/><use href="#c" x="855.20" y="353.82"/><use href="#c" x="867.80" y="353.82"/><use href="#c" x="880.40" y="353.82"/><use href="#c" x="893.00" y="353.82"/><use href="#c" x="905.60" y="353.82"/><use href="#c" x="540.20" y="368.63"/><use href="#c" x="552.80" y="368.63"/><use href="#c" x="565.40" y="368.63"/><use href="#c" x="578.00" y="368.63"/><use href="#c" x="590.60" y="368.63"/><use href="#c" x="603.20" y="368.63"/><use href="#c" x="615.80" y="368.63"/><use href="#c" x="628.40" y="368.63"/><use href="#c" x="641.00" y="368.63"/><use href="#c" x="653.60" y="368.63"/><use href="#c" x="666.20" y="368.63"/><use href="#c" x="678.80" y="368.63"/><use href="#c" x="691.40" y="368.63"/><use href="#c" x="704.00" y="368.63"/><use href="#c" x="716.60" y="368.63"/><use href="#c" x="729.20" y="368.63"/><use href="#c" x="741.80" y="368.63"/><use href="#c" x="754.40" y="368.63"/><use href="#c" x="767.00" y="368.63"/><use href="#c" x="779.60" y="368.63"/><use href="#c" x="792.20" y="368.63"/><use href="#c" x="804.80" y="368.63"/><use href="#c" x="817.40" y="368.63"/><use href="#c" x="830.00" y="368.63"/><use href="#c" x="842.60" y="368.63"/><use href="#c" x="855.20" y="368.63"/><use href="#c" x="867.80" y="368.63"/><use href="#c" x="880.40" y="368.63"/><use href="#c" x="893.00" y="368.63"/><use href="#c" x="905.60" y="368.63"/><use href="#c" x="540.20" y="383.43"/><use href="#c" x="552.80" y="383.43"/><use href="#c" x="565.40" y="383.43"/><use href="#c" x="578.00" y="383.43"/><use href="#c" x="590.60" y="383.43"/><use href="#c" x="603.20" y="383.43"/><use href="#c" x="615.80" y="383.43"/><use href="#c" x="628.40" y="383.43"/><use href="#c" x="641.00" y="383.43"/><use href="#c" x="653.60" y="383.43"/><use href="#c" x="666.20" y="383.43"/><use href="#c" x="678.80" y="383.43"/><use href="#c" x="691.40" y="383.43"/><use href="#c" x="704.00" y="383.43"/><use href="#c" x="716.60" y="383.43"/><use href="#c" x="729.20" y="383.43"/><use href="#c" x="741.80" y="383.43"/><use href="#c" x="754.40" y="383.43"/><use href="#c" x="767.00" y="383.43"/><use href="#c" x="779.60" y="383.43"/><use href="#c" x="792.20" y="383.43"/><use href="#c" x="804.80" y="383.43"/><use href="#c" x="817.40" y="383.43"/><use href="#c" x="830.00" y="383.43"/><use href="#c" x="842.60" y="383.43"/></g>
<g fill="#a0c85a"><use href="#c" x="880.40" y="383.43"/><use href="#c" x="893.00" y="383.43"/><use href="#c" x="905.60" y="383.43"/><use href="#c" x="540.20" y="398.24"/><use href="#c" x="552.80" y="398.24"/><use href="#c" x="565.40" y="398.24"/><use href="#c" x="578.00" y="398.24"/><use href="#c" x="590.60" y="398.24"/><use href="#c" x="603.20" y="398.24"/><use href="#c" x="615.80" y="398.24"/><use href="#c" x="628.40" y="398.24"/><use href="#c" x="641.00" y="398.24"/><use href="#c" x="653.60" y="398.24"/><use href="#c" x="666.20" y="398.24"/><use href="#c" x="678.80" y="398.24"/><use href="#c" x="691.40" y="398.24"/><use href="#c" x="704.00" y="398.24"/><use href="#c" x="716.60" y="398.24"/><use href="#c" x="729.20" y="398.24"/><use href="#c" x="741.80" y="398.24"/><use href="#c" x="754.40" y="398.24"/></g>
<g fill="#e87c7d"><use href="#c" x="767.00" y="398.24"/><use href="#c" x="779.60" y="398.24"/><use href="#c" x="792.20" y="398.24"/><use href="#c" x="804.80" y="398.24"/><use href="#c" x="817.40" y="398.24"/><use href="#c" x="830.00" y="398.24"/><use href="#c" x="842.60" y="398.24"/><use href="#c" x="855.20" y="398.24"/><use href="#c" x="867.80" y="398.24"/><use href="#c" x="880.40" y="398.24"/><use href="#c" x="893.00" y="398.24"/><use href="#c" x="905.60" y="398.24"/><use href="#c" x="540.20" y="413.05"/><use href="#c" x="552.80" y="413.05"/><use href="#c" x="565.40" y="413.05"/><use href="#c" x="578.00" y="413.05"/><use href="#c" x="590.60" y="413.05"/><use href="#c" x="603.20" y="413.05"/><use href="#c" x="615.80" y="413.05"/><use href="#c" x="628.40" y="413.05"/><use href="#c" x="641.00" y="413.05"/><use href="#c" x="653.60" y="413.05"/><use href="#c" x="666.20" y="413.05"/><use href="#c" x="678.80" y="413.05"/><use href="#c" x="691.40" y="413.05"/><use href="#c" x="704.00" y="413.05"/><use href="#c" x="716.60" y="413.05"/><use href="#c" x="729.20" y="413.05"/><use href="#c" x="741.80" y="413.05"/><use href="#c" x="754.40" y="413.05"/><use href="#c" x="767.00" y="413.05"/><use href="#c" x="779.60" y="413.05"/><use href="#c" x="792.20" y="413.05"/><use href="#c" x="804.80" y="413.05"/><use href="#c" x="817.40" y="413.05"/><use href="#c" x="830.00" y="413.05"/><use href="#c" x="842.60" y="413.05"/><use href="#c" x="855.20" y="413.05"/><use href="#c" x="867.80" y="413.05"/><use href="#c" x="880.40" y="413.05"/><use href="#c" x="893.00" y="413.05"/><use href="#c" x="905.60" y="413.05"/><use href="#c" x="540.20" y="427.86"/><use href="#c" x="552.80" y="427.86"/><use href="#c" x="565.40" y="427.86"/><use href="#c" x="578.00" y="427.86"/><use href="#c" x="590.60" y="427.86"/><use href="#c" x="603.20" y="427.86"/><use href="#c" x="615.80" y="427.86"/><use href="#c" x="628.40" y="427.86"/><use href="#c" x="641.00" y="427.86"/><use href="#c" x="653.60" y="427.86"/><use href="#c" x="666.20" y="427.86"/><use href="#c" x="678.80" y="427.86"/><use href="#c" x="691.40" y="427.86"/><use href="#c" x="704.00" y="427.86"/><use href="#c" x="716.60" y="427.86"/><use href="#c" x="729.20" y="427.86"/><use href="#c" x="741.80" y="427.86"/><use href="#c" x="754.40" y="427.86"/><use href="#c" x="767.00" y="427.86"/><use href="#c" x="779.60" y="427.86"/></g>
<g fill="#ded85a"><use href="#c" x="855.20" y="383.43"/><use href="#c" x="867.80" y="383.43"/></g>
<g fill="#d1d2d4"><use href="#c" x="792.20" y="427.86"/><use href="#c" x="804.80" y="427.86"/><use href="#c" x="817.40" y="427.86"/><use href="#c" x="830.00" y="427.86"/><use href="#c" x="842.60" y="427.86"/><use href="#c" x="855.20" y="427.86"/><use href="#c" x="867.80" y="427.86"/><use href="#c" x="880.40" y="427.86"/><use href="#c" x="893.00" y="427.86"/><use href="#c" x="905.60" y="427.86"/><use href="#c" x="540.20" y="442.66"/><use href="#c" x="552.80" y="442.66"/><use href="#c" x="565.40" y="442.66"/><use href="#c" x="578.00" y="442.66"/><use href="#c" x="590.60" y="442.66"/><use href="#c" x="603.20" y="442.66"/><use href="#c" x="615.80" y="442.66"/><use href="#c" x="628.40" y="442.66"/><use href="#c" x="641.00" y="442.66"/><use href="#c" x="653.60" y="442.66"/><use href="#c" x="666.20" y="442.66"/><use href="#c" x="678.80" y="442.66"/><use href="#c" x="691.40" y="442.66"/><use href="#c" x="704.00" y="442.66"/><use href="#c" x="716.60" y="442.66"/><use href="#c" x="729.20" y="442.66"/><use href="#c" x="741.80" y="442.66"/><use href="#c" x="754.40" y="442.66"/><use href="#c" x="767.00" y="442.66"/><use href="#c" x="779.60" y="442.66"/><use href="#c" x="792.20" y="442.66"/><use href="#c" x="804.80" y="442.66"/><use href="#c" x="817.40" y="442.66"/><use href="#c" x="830.00" y="442.66"/><use href="#c" x="842.60" y="442.66"/><use href="#c" x="855.20" y="442.66"/><use href="#c" x="867.80" y="442.66"/><use href="#c" x="880.40" y="442.66"/><use href="#c" x="893.00" y="442.66"/><use href="#c" x="905.60" y="442.66"/><use href="#c" x="540.20" y="457.47"/><use href="#c" x="552.80" y="457.47"/><use href="#c" x="565.40" y="457.47"/><use href="#c" x="578.00" y="457.47"/><use href="#c" x="590.60" y="457.47"/><use href="#c" x="603.20" y="457.47"/><use href="#c" x="615.80" y="457.47"/><use href="#c" x="628.40" y="457.47"/><use href="#c" x="641.00" y="457.47"/><use href="#c" x="653.60" y="457.47"/><use href="#c" x="666.20" y="457.47"/><use href="#c" x="678.80" y="457.47"/><use href="#c" x="691.40" y="457.47"/><use href="#c" x="704.00" y="457.47"/><use href="#c" x="716.60" y="457.47"/><use href="#c" x="729.20" y="457.47"/><use href="#c" x="741.80" y="457.47"/><use href="#c" x="754.40" y="457.47"/><use href="#c" x="767.00" y="457.47"/><use href="#c" x="779.60" y="457.47"/><use href="#c" x="792.20" y="457.47"/><use href="#c" x="804.80" y="457.47"/><use href="#c" x="817.40" y="457.47"/><use href="#c" x="830.00" y="457.47"/><use href="#c" x="842.60" y="457.47"/><use href="#c" x="855.20" y="457.47"/><use href="#c" x="867.80" y="457.47"/><use href="#c" x="880.40" y="457.47"/><use href="#c" x="893.00" y="457.47"/><use href="#c" x="905.60" y="457.47"/><use href="#c" x="540.20" y="472.28"/><use href="#c" x="552.80" y="472.28"/><use href="#c" x="565.40" y="472.28"/><use href="#c" x="578.00" y="472.28"/><use href="#c" x="590.60" y="472.28"/><use href="#c" x="603.20" y="472.28"/><use href="#c" x="615.80" y="472.28"/><use href="#c" x="628.40" y="472.28"/><use href="#c" x="641.00" y="472.28"/><use href="#c" x="653.60" y="472.28"/><use href="#c" x="666.20" y="472.28"/><use href="#c" x="678.80" y="472.28"/><use href="#c" x="691.40" y="472.28"/><use href="#c" x="704.00" y="472.28"/><use href="#c" x="716.60" y="472.28"/><use href="#c" x="729.20" y="472.28"/><use href="#c" x="741.80" y="472.28"/><use href="#c" x="754.40" y="472.28"/><use href="#c" x="767.00" y="472.28"/><use href="#c" x="779.60" y="472.28"/><use href="#c" x="792.20" y="472.28"/><use href="#c" x="804.80" y="472.28"/><use href="#c" x="817.40" y="472.28"/><use href="#c" x="830.00" y="472.28"/><use href="#c" x="842.60" y="472.28"/><use href="#c" x="855.20" y="472.28"/><use href="#c" x="867.80" y="472.28"/><use href="#c" x="880.40" y="472.28"/><use href="#c" x="893.00" y="472.28"/><use href="#c" x="905.60" y="472.28"/><use href="#c" x="540.20" y="487.08"/><use href="#c" x="552.80" y="487.08"/><use href="#c" x="565.40" y="487.08"/><use href="#c" x="578.00" y="487.08"/><use href="#c" x="590.60" y="487.08"/><use href="#c" x="603.20" y="487.08"/><use href="#c" x="615.80" y="487.08"/><use href="#c" x="628.40" y="487.08"/><use href="#c" x="641.00" y="487.08"/><use href="#c" x="653.60" y="487.08"/><use href="#c" x="666.20" y="487.08"/><use href="#c" x="678.80" y="487.08"/><use href="#c" x="691.40" y="487.08"/><use href="#c" x="704.00" y="487.08"/><use href="#c" x="716.60" y="487.08"/><use href="#c" x="729.20" y="487.08"/><use href="#c" x="741.80" y="487.08"/><use href="#c" x="754.40" y="487.08"/><use href="#c" x="767.00" y="487.08"/><use href="#c" x="779.60" y="487.08"/><use href="#c" x="792.20" y="487.08"/><use href="#c" x="804.80" y="487.08"/><use href="#c" x="817.40" y="487.08"/><use href="#c" x="830.00" y="487.08"/><use href="#c" x="842.60" y="487.08"/><use href="#c" x="855.20" y="487.08"/><use href="#c" x="867.80" y="487.08"/><use href="#c" x="880.40" y="487.08"/><use href="#c" x="893.00" y="487.08"/><use href="#c" x="905.60" y="487.08"/><use href="#c" x="540.20" y="501.89"/><use href="#c" x="552.80" y="501.89"/><use href="#c" x="565.40" y="501.89"/><use href="#c" x="578.00" y="501.89"/><use href="#c" x="590.60" y="501.89"/><use href="#c" x="603.20" y="501.89"/><use href="#c" x="615.80" y="501.89"/><use href="#c" x="628.40" y="501.89"/><use href="#c" x="641.00" y="501.89"/><use href="#c" x="653.60" y="501.89"/><use href="#c" x="666.20" y="501.89"/><use href="#c" x="678.80" y="501.89"/><use href="#c" x="691.40" y="501.89"/><use href="#c" x="704.00" y="501.89"/><use href="#c" x="716.60" y="501.89"/><use href="#c" x="729.20" y="501.89"/><use href="#c" x="741.80" y="501.89"/><use href="#c" x="754.40" y="501.89"/><use href="#c" x="767.00" y="501.89"/><use href="#c" x="779.60" y="501.89"/><use href="#c" x="792.20" y="501.89"/><use href="#c" x="804.80" y="501.89"/><use href="#c" x="817.40" y="501.89"/><use href="#c" x="830.00" y="501.89"/><use href="#c" x="842.60" y="501.89"/><use href="#c" x="855.20" y="501.89"/><use href="#c" x="867.80" y="501.89"/><use href="#c" x="880.40" y="501.89"/><use href="#c" x="893.00" y="501.89"/><use href="#c" x="905.60" y="501.89"/><use href="#c" x="540.20" y="516.70"/><use href="#c" x="552.80" y="516.70"/><use href="#c" x="565.40" y="516.70"/><use href="#c" x="578.00" y="516.70"/><use href="#c" x="590.60" y="516.70"/><use href="#c" x="603.20" y="516.70"/><use href="#c" x="615.80" y="516.70"/><use href="#c" x="628.40" y="516.70"/><use href="#c" x="641.00" y="516.70"/><use href="#c" x="653.60" y="516.70"/><use href="#c" x="666.20" y="516.70"/><use href="#c" x="678.80" y="516.70"/><use href="#c" x="691.40" y="516.70"/><use href="#c" x="704.00" y="516.70"/><use href="#c" x="716.60" y="516.70"/><use href="#c" x="729.20" y="516.70"/><use href="#c" x="741.80" y="516.70"/><use href="#c" x="754.40" y="516.70"/><use href="#c" x="767.00" y="516.70"/><use href="#c" x="779.60" y="516.70"/><use href="#c" x="792.20" y="516.70"/><use href="#c" x="804.80" y="516.70"/><use href="#c" x="817.40" y="516.70"/><use href="#c" x="830.00" y="516.70"/><use href="#c" x="842.60" y="516.70"/><use href="#c" x="855.20" y="516.70"/><use href="#c" x="867.80" y="516.70"/><use href="#c" x="880.40" y="516.70"/><use href="#c" x="893.00" y="516.70"/><use href="#c" x="905.60" y="516.70"/><use href="#c" x="540.20" y="531.50"/><use href="#c" x="552.80" y="531.50"/><use href="#c" x="565.40" y="531.50"/><use href="#c" x="578.00" y="531.50"/><use href="#c" x="590.60" y="531.50"/><use href="#c" x="603.20" y="531.50"/><use href="#c" x="615.80" y="531.50"/><use href="#c" x="628.40" y="531.50"/><use href="#c" x="641.00" y="531.50"/><use href="#c" x="653.60" y="531.50"/><use href="#c" x="666.20" y="531.50"/><use href="#c" x="678.80" y="531.50"/><use href="#c" x="691.40" y="531.50"/><use href="#c" x="704.00" y="531.50"/><use href="#c" x="716.60" y="531.50"/><use href="#c" x="729.20" y="531.50"/><use href="#c" x="741.80" y="531.50"/><use href="#c" x="754.40" y="531.50"/><use href="#c" x="767.00" y="531.50"/><use href="#c" x="779.60" y="531.50"/><use href="#c" x="792.20" y="531.50"/><use href="#c" x="804.80" y="531.50"/><use href="#c" x="817.40" y="531.50"/><use href="#c" x="830.00" y="531.50"/><use href="#c" x="842.60" y="531.50"/><use href="#c" x="855.20" y="531.50"/><use href="#c" x="867.80" y="531.50"/><use href="#c" x="880.40" y="531.50"/><use href="#c" x="893.00" y="531.50"/><use href="#c" x="905.60" y="531.50"/><use href="#c" x="540.20" y="546.31"/><use href="#c" x="552.80" y="546.31"/><use href="#c" x="565.40" y="546.31"/><use href="#c" x="578.00" y="546.31"/><use href="#c" x="590.60" y="546.31"/><use href="#c" x="603.20" y="546.31"/><use href="#c" x="615.80" y="546.31"/><use href="#c" x="628.40" y="546.31"/><use href="#c" x="641.00" y="546.31"/><use href="#c" x="653.60" y="546.31"/><use href="#c" x="666.20" y="546.31"/><use href="#c" x="678.80" y="546.31"/><use href="#c" x="691.40" y="546.31"/><use href="#c" x="704.00" y="546.31"/><use href="#c" x="716.60" y="546.31"/><use href="#c" x="729.20" y="546.31"/><use href="#c" x="741.80" y="546.31"/><use href="#c" x="754.40" y="546.31"/><use href="#c" x="767.00" y="546.31"/><use href="#c" x="779.60" y="546.31"/><use href="#c" x="792.20" y="546.31"/><use href="#c" x="804.80" y="546.31"/><use href="#c" x="817.40" y="546.31"/><use href="#c" x="830.00" y="546.31"/><use href="#c" x="842.60" y="546.31"/><use href="#c" x="855.20" y="546.31"/><use href="#c" x="867.80" y="546.31"/><use href="#c" x="880.40" y="546.31"/><use href="#c" x="893.00" y="546.31"/><use href="#c" x="905.60" y="546.31"/><use href="#c" x="540.20" y="561.12"/><use href="#c" x="552.80" y="561.12"/><use href="#c" x="565.40" y="561.12"/><use href="#c" x="578.00" y="561.12"/><use href="#c" x="590.60" y="561.12"/><use href="#c" x="603.20" y="561.12"/><use href="#c" x="615.80" y="561.12"/><use href="#c" x="628.40" y="561.12"/><use href="#c" x="641.00" y="561.12"/><use href="#c" x="653.60" y="561.12"/><use href="#c" x="666.20" y="561.12"/><use href="#c" x="678.80" y="561.12"/><use href="#c" x="691.40" y="561.12"/><use href="#c" x="704.00" y="561.12"/><use href="#c" x="716.60" y="561.12"/><use href="#c" x="729.20" y="561.12"/><use href="#c" x="741.80" y="561.12"/><use href="#c" x="754.40" y="561.12"/><use href="#c" x="767.00" y="561.12"/><use href="#c" x="779.60" y="561.12"/><use href="#c" x="792.20" y="561.12"/><use href="#c" x="804.80" y="561.12"/><use href="#c" x="817.40" y="561.12"/><use href="#c" x="830.00" y="561.12"/><use href="#c" x="842.60" y="561.12"/><use href="#c" x="855.20" y="561.12"/><use href="#c" x="867.80" y="561.12"/><use href="#c" x="880.40" y="561.12"/><use href="#c" x="893.00" y="561.12"/><use href="#c" x="905.60" y="561.12"/><use href="#c" x="540.20" y="575.93"/><use href="#c" x="552.80" y="575.93"/><use href="#c" x="565.40" y="575.93"/><use href="#c" x="578.00" y="575.93"/><use href="#c" x="590.60" y="575.93"/><use href="#c" x="603.20" y="575.93"/><use href="#c" x="615.80" y="575.93"/><use href="#c" x="628.40" y="575.93"/><use href="#c" x="641.00" y="575.93"/><use href="#c" x="653.60" y="575.93"/><use href="#c" x="666.20" y="575.93"/><use href="#c" x="678.80" y="575.93"/><use href="#c" x="691.40" y="575.93"/><use href="#c" x="704.00" y="575.93"/><use href="#c" x="716.60" y="575.93"/><use href="#c" x="729.20" y="575.93"/><use href="#c" x="741.80" y="575.93"/><use href="#c" x="754.40" y="575.93"/><use href="#c" x="767.00" y="575.93"/><use href="#c" x="779.60" y="575.93"/><use href="#c" x="792.20" y="575.93"/><use href="#c" x="804.80" y="575.93"/><use href="#c" x="817.40" y="575.93"/><use href="#c" x="830.00" y="575.93"/><use href="#c" x="842.60" y="575.93"/><use href="#c" x="855.20" y="575.93"/><use href="#c" x="867.80" y="575.93"/><use href="#c" x="880.40" y="575.93"/><use href="#c" x="893.00" y="575.93"/><use href="#c" x="905.60" y="575.93"/><use href="#c" x="540.20" y="590.73"/><use href="#c" x="552.80" y="590.73"/><use href="#c" x="565.40" y="590.73"/><use href="#c" x="578.00" y="590.73"/><use href="#c" x="590.60" y="590.73"/><use href="#c" x="603.20" y="590.73"/><use href="#c" x="615.80" y="590.73"/><use href="#c" x="628.40" y="590.73"/><use href="#c" x="641.00" y="590.73"/><use href="#c" x="653.60" y="590.73"/><use href="#c" x="666.20" y="590.73"/><use href="#c" x="678.80" y="590.73"/><use href="#c" x="691.40" y="590.73"/><use href="#c" x="704.00" y="590.73"/><use href="#c" x="716.60" y="590.73"/><use href="#c" x="729.20" y="590.73"/><use href="#c" x="741.80" y="590.73"/><use href="#c" x="754.40" y="590.73"/><use href="#c" x="767.00" y="590.73"/><use href="#c" x="779.60" y="590.73"/><use href="#c" x="792.20" y="590.73"/><use href="#c" x="804.80" y="590.73"/><use href="#c" x="817.40" y="590.73"/><use href="#c" x="830.00" y="590.73"/><use href="#c" x="842.60" y="590.73"/><use href="#c" x="855.20" y="590.73"/><use href="#c" x="867.80" y="590.73"/><use href="#c" x="880.40" y="590.73"/><use href="#c" x="893.00" y="590.73"/><use href="#c" x="905.60" y="590.73"/><use href="#c" x="540.20" y="605.54"/><use href="#c" x="552.80" y="605.54"/><use href="#c" x="565.40" y="605.54"/><use href="#c" x="578.00" y="605.54"/><use href="#c" x="590.60" y="605.54"/><use href="#c" x="603.20" y="605.54"/><use href="#c" x="615.80" y="605.54"/><use href="#c" x="628.40" y="605.54"/><use href="#c" x="641.00" y="605.54"/><use href="#c" x="653.60" y="605.54"/><use href="#c" x="666.20" y="605.54"/><use href="#c" x="678.80" y="605.54"/><use href="#c" x="691.40" y="605.54"/><use href="#c" x="704.00" y="605.54"/><use href="#c" x="716.60" y="605.54"/><use href="#c" x="729.20" y="605.54"/><use href="#c" x="741.80" y="605.54"/><use href="#c" x="754.40" y="605.54"/><use href="#c" x="767.00" y="605.54"/><use href="#c" x="779.60" y="605.54"/><use href="#c" x="792.20" y="605.54"/><use href="#c" x="804.80" y="605.54"/><use href="#c" x="817.40" y="605.54"/><use href="#c" x="830.00" y="605.54"/><use href="#c" x="842.60" y="605.54"/><use href="#c" x="855.20" y="605.54"/><use href="#c" x="867.80" y="605.54"/><use href="#c" x="880.40" y="605.54"/><use href="#c" x="893.00" y="605.54"/><use href="#c" x="905.60" y="605.54"/><use href="#c" x="540.20" y="620.35"/><use href="#c" x="552.80" y="620.35"/><use href="#c" x="565.40" y="620.35"/><use href="#c" x="578.00" y="620.35"/><use href="#c" x="590.60" y="620.35"/><use href="#c" x="603.20" y="620.35"/><use href="#c" x="615.80" y="620.35"/><use href="#c" x="628.40" y="620.35"/><use href="#c" x="641.00" y="620.35"/><use href="#c" x="653.60" y="620.35"/><use href="#c" x="666.20" y="620.35"/><use href="#c" x="678.80" y="620.35"/><use href="#c" x="691.40" y="620.35"/><use href="#c" x="704.00" y="620.35"/><use href="#c" x="716.60" y="620.35"/><use href="#c" x="729.20" y="620.35"/><use href="#c" x="741.80" y="620.35"/><use href="#c" x="754.40" y="620.35"/><use href="#c" x="767.00" y="620.35"/><use href="#c" x="779.60" y="620.35"/><use href="#c" x="792.20" y="620.35"/><use href="#c" x="804.80" y="620.35"/><use href="#c" x="817.40" y="620.35"/><use href="#c" x="830.00" y="620.35"/><use href="#c" x="842.60" y="620.35"/><use href="#c" x="855.20" y="620.35"/><use href="#c" x="867.80" y="620.35"/><use href="#c" x="880.40" y="620.35"/><use href="#c" x="893.00" y="620.35"/><use href="#c" x="905.60" y="620.35"/><use href="#c" x="540.20" y="635.15"/><use href="#c" x="552.80" y="635.15"/><use href="#c" x="565.40" y="635.15"/><use href="#c" x="578.00" y="635.15"/><use href="#c" x="590.60" y="635.15"/><use href="#c" x="603.20" y="635.15"/><use href="#c" x="615.80" y="635.15"/><use href="#c" x="628.40" y="635.15"/><use href="#c" x="641.00" y="635.15"/><use href="#c" x="653.60" y="635.15"/><use href="#c" x="666.20" y="635.15"/><use href="#c" x="678.80" y="635.15"/><use href="#c" x="691.40" y="635.15"/><use href="#c" x="704.00" y="635.15"/><use href="#c" x="716.60" y="635.15"/><use href="#c" x="729.20" y="635.15"/><use href="#c" x="741.80" y="635.15"/><use href="#c" x="754.40" y="635.15"/><use href="#c" x="767.00" y="635.15"/><use href="#c" x="779.60" y="635.15"/><use href="#c" x="792.20" y="635.15"/><use href="#c" x="804.80" y="635.15"/><use href="#c" x="817.40" y="635.15"/><use href="#c" x="830.00" y="635.15"/><use href="#c" x="842.60" y="635.15"/><use href="#c" x="855.20" y="635.15"/><use href="#c" x="867.80" y="635.15"/><use href="#c" x="880.40" y="635.15"/><use href="#c" x="893.00" y="635.15"/><use href="#c" x="905.60" y="635.15"/><use href="#c" x="540.20" y="649.96"/><use href="#c" x="552.80" y="649.96"/><use href="#c" x="565.40" y="649.96"/><use href="#c" x="578.00" y="649.96"/><use href="#c" x="590.60" y="649.96"/><use href="#c" x="603.20" y="649.96"/><use href="#c" x="615.80" y="649.96"/><use href="#c" x="628.40" y="649.96"/><use href="#c" x="641.00" y="649.96"/><use href="#c" x="653.60" y="649.96"/><use href="#c" x="666.20" y="649.96"/><use href="#c" x="678.80" y="649.96"/><use href="#c" x="691.40" y="649.96"/><use href="#c" x="704.00" y="649.96"/><use href="#c" x="716.60" y="649.96"/><use href="#c" x="729.20" y="649.96"/><use href="#c" x="741.80" y="649.96"/><use href="#c" x="754.40" y="649.96"/><use href="#c" x="767.00" y="649.96"/><use href="#c" x="779.60" y="649.96"/><use href="#c" x="792.20" y="649.96"/><use href="#c" x="804.80" y="649.96"/><use href="#c" x="817.40" y="649.96"/><use href="#c" x="830.00" y="649.96"/><use href="#c" x="842.60" y="649.96"/><use href="#c" x="855.20" y="649.96"/><use href="#c" x="867.80" y="649.96"/><use href="#c" x="880.40" y="649.96"/><use href="#c" x="893.00" y="649.96"/><use href="#c" x="905.60" y="649.96"/><use href="#c" x="540.20" y="664.77"/><use href="#c" x="552.80" y="664.77"/><use href="#c" x="565.40" y="664.77"/><use href="#c" x="578.00" y="664.77"/><use href="#c" x="590.60" y="664.77"/><use href="#c" x="603.20" y="664.77"/><use href="#c" x="615.80" y="664.77"/><use href="#c" x="628.40" y="664.77"/><use href="#c" x="641.00" y="664.77"/><use href="#c" x="653.60" y="664.77"/><use href="#c" x="666.20" y="664.77"/><use href="#c" x="678.80" y="664.77"/><use href="#c" x="691.40" y="664.77"/><use href="#c" x="704.00" y="664.77"/><use href="#c" x="716.60" y="664.77"/><use href="#c" x="729.20" y="664.77"/><use href="#c" x="741.80" y="664.77"/><use href="#c" x="754.40" y="664.77"/><use href="#c" x="767.00" y="664.77"/><use href="#c" x="779.60" y="664.77"/><use href="#c" x="792.20" y="664.77"/><use href="#c" x="804.80" y="664.77"/><use href="#c" x="817.40" y="664.77"/><use href="#c" x="830.00" y="664.77"/><use href="#c" x="842.60" y="664.77"/><use href="#c" x="855.20" y="664.77"/><use href="#c" x="867.80" y="664.77"/><use href="#c" x="880.40" y="664.77"/><use href="#c" x="893.00" y="664.77"/><use href="#c" x="905.60" y="664.77"/><use href="#c" x="540.20" y="679.58"/><use href="#c" x="552.80" y="679.58"/><use href="#c" x="565.40" y="679.58"/><use href="#c" x="578.00" y="679.58"/><use href="#c" x="590.60" y="679.58"/><use href="#c" x="603.20" y="679.58"/><use href="#c" x="615.80" y="679.58"/><use href="#c" x="628.40" y="679.58"/><use href="#c" x="641.00" y="679.58"/><use href="#c" x="653.60" y="679.58"/><use href="#c" x="666.20" y="679.58"/><use href="#c" x="678.80" y="679.58"/><use href="#c" x="691.40" y="679.58"/><use href="#c" x="704.00" y="679.58"/><use href="#c" x="716.60" y="679.58"/><use href="#c" x="729.20" y="679.58"/><use href="#c" x="741.80" y="679.58"/><use href="#c" x="754.40" y="679.58"/><use href="#c" x="767.00" y="679.58"/><use href="#c" x="779.60" y="679.58"/><use href="#c" x="792.20" y="679.58"/><use href="#c" x="804.80" y="679.58"/><use href="#c" x="817.40" y="679.58"/><use href="#c" x="830.00" y="679.58"/><use href="#c" x="842.60" y="679.58"/><use href="#c" x="855.20" y="679.58"/><use href="#c" x="867.80" y="679.58"/><use href="#c" x="880.40" y="679.58"/><use href="#c" x="893.00" y="679.58"/><use href="#c" x="905.60" y="679.58"/><use href="#c" x="540.20" y="694.38"/><use href="#c" x="552.80" y="694.38"/><use href="#c" x="565.40" y="694.38"/><use href="#c" x="578.00" y="694.38"/><use href="#c" x="590.60" y="694.38"/><use href="#c" x="603.20" y="694.38"/><use href="#c" x="615.80" y="694.38"/><use href="#c" x="628.40" y="694.38"/><use href="#c" x="641.00" y="694.38"/><use href="#c" x="653.60" y="694.38"/><use href="#c" x="666.20" y="694.38"/><use href="#c" x="678.80" y="694.38"/><use href="#c" x="691.40" y="694.38"/><use href="#c" x="704.00" y="694.38"/><use href="#c" x="716.60" y="694.38"/><use href="#c" x="729.20" y="694.38"/><use href="#c" x="741.80" y="694.38"/><use href="#c" x="754.40" y="694.38"/><use href="#c" x="767.00" y="694.38"/><use href="#c" x="779.60" y="694.38"/><use href="#c" x="792.20" y="694.38"/><use href="#c" x="804.80" y="694.38"/><use href="#c" x="817.40" y="694.38"/><use href="#c" x="830.00" y="694.38"/><use href="#c" x="842.60" y="694.38"/><use href="#c" x="855.20" y="694.38"/><use href="#c" x="867.80" y="694.38"/><use href="#c" x="880.40" y="694.38"/><use href="#c" x="893.00" y="694.38"/><use href="#c" x="905.60" y="694.38"/><use href="#c" x="540.20" y="709.19"/><use href="#c" x="552.80" y="709.19"/><use href="#c" x="565.40" y="709.19"/><use href="#c" x="578.00" y="709.19"/><use href="#c" x="590.60" y="709.19"/><use href="#c" x="603.20" y="709.19"/><use href="#c" x="615.80" y="709.19"/><use href="#c" x="628.40" y="709.19"/><use href="#c" x="641.00" y="709.19"/><use href="#c" x="653.60" y="709.19"/><use href="#c" x="666.20" y="709.19"/><use href="#c" x="678.80" y="709.19"/><use href="#c" x="691.40" y="709.19"/><use href="#c" x="704.00" y="709.19"/><use href="#c" x="716.60" y="709.19"/><use href="#c" x="729.20" y="709.19"/><use href="#c" x="741.80" y="709.19"/><use href="#c" x="754.40" y="709.19"/><use href="#c" x="767.00" y="709.19"/><use href="#c" x="779.60" y="709.19"/><use href="#c" x="792.20" y="709.19"/><use href="#c" x="804.80" y="709.19"/><use href="#c" x="817.40" y="709.19"/><use href="#c" x="830.00" y="709.19"/><use href="#c" x="842.60" y="709.19"/><use href="#c" x="855.20" y="709.19"/><use href="#c" x="867.80" y="709.19"/><use href="#c" x="880.40" y="709.19"/><use href="#c" x="893.00" y="709.19"/><use href="#c" x="905.60" y="709.19"/><use href="#c" x="540.20" y="724.00"/><use href="#c" x="552.80" y="724.00"/><use href="#c" x="565.40" y="724.00"/><use href="#c" x="578.00" y="724.00"/><use href="#c" x="590.60" y="724.00"/><use href="#c" x="603.20" y="724.00"/><use href="#c" x="615.80" y="724.00"/><use href="#c" x="628.40" y="724.00"/><use href="#c" x="641.00" y="724.00"/><use href="#c" x="653.60" y="724.00"/><use href="#c" x="666.20" y="724.00"/><use href="#c" x="678.80" y="724.00"/><use href="#c" x="691.40" y="724.00"/><use href="#c" x="704.00" y="724.00"/><use href="#c" x="716.60" y="724.00"/><use href="#c" x="729.20" y="724.00"/><use href="#c" x="741.80" y="724.00"/><use href="#c" x="754.40" y="724.00"/><use href="#c" x="767.00" y="724.00"/><use href="#c" x="779.60" y="724.00"/><use href="#c" x="792.20" y="724.00"/><use href="#c" x="804.80" y="724.00"/><use href="#c" x="817.40" y="724.00"/><use href="#c" x="830.00" y="724.00"/><use href="#c" x="842.60" y="724.00"/><use href="#c" x="855.20" y="724.00"/><use href="#c" x="867.80" y="724.00"/><use href="#c" x="880.40" y="724.00"/><use href="#c" x="893.00" y="724.00"/><use href="#c" x="905.60" y="724.00"/><use href="#c" x="540.20" y="738.80"/><use href="#c" x="552.80" y="738.80"/><use href="#c" x="565.40" y="738.80"/><use href="#c" x="578.00" y="738.80"/><use href="#c" x="590.60" y="738.80"/><use href="#c" x="603.20" y="738.80"/><use href="#c" x="615.80" y="738.80"/><use href="#c" x="628.40" y="738.80"/><use href="#c" x="641.00" y="738.80"/><use href="#c" x="653.60" y="738.80"/><use href="#c" x="666.20" y="738.80"/><use href="#c" x="678.80" y="738.80"/><use href="#c" x="691.40" y="738.80"/><use href="#c" x="704.00" y="738.80"/><use href="#c" x="716.60" y="738.80"/><use href="#c" x="729.20" y="738.80"/><use href="#c" x="741.80" y="738.80"/><use href="#c" x="754.40" y="738.80"/><use href="#c" x="767.00" y="738.80"/><use href="#c" x="779.60" y="738.80"/><use href="#c" x="792.20" y="738.80"/><use href="#c" x="804.80" y="738.80"/><use href="#c" x="817.40" y="738.80"/><use href="#c" x="830.00" y="738.80"/><use href="#c" x="842.60" y="738.80"/><use href="#c" x="855.20" y="738.80"/><use href="#c" x="867.80" y="738.80"/><use href="#c" x="880.40" y="738.80"/><use href="#c" x="893.00" y="738.80"/><use href="#c" x="905.60" y="738.80"/><use href="#c" x="540.20" y="753.61"/><use href="#c" x="552.80" y="753.61"/><use href="#c" x="565.40" y="753.61"/><use href="#c" x="578.00" y="753.61"/><use href="#c" x="590.60" y="753.61"/><use href="#c" x="603.20" y="753.61"/><use href="#c" x="615.80" y="753.61"/><use href="#c" x="628.40" y="753.61"/><use href="#c" x="641.00" y="753.61"/><use href="#c" x="653.60" y="753.61"/><use href="#c" x="666.20" y="753.61"/><use href="#c" x="678.80" y="753.61"/><use href="#c" x="691.40" y="753.61"/><use href="#c" x="704.00" y="753.61"/><use href="#c" x="716.60" y="753.61"/><use href="#c" x="729.20" y="753.61"/><use href="#c" x="741.80" y="753.61"/><use href="#c" x="754.40" y="753.61"/><use href="#c" x="767.00" y="753.61"/><use href="#c" x="779.60" y="753.61"/><use href="#c" x="792.20" y="753.61"/><use href="#c" x="804.80" y="753.61"/><use href="#c" x="817.40" y="753.61"/><use href="#c" x="830.00" y="753.61"/><use href="#c" x="842.60" y="753.61"/><use href="#c" x="855.20" y="753.61"/><use href="#c" x="867.80" y="753.61"/><use href="#c" x="880.40" y="753.61"/><use href="#c" x="893.00" y="753.61"/><use href="#c" x="905.60" y="753.61"/><use href="#c" x="540.20" y="768.42"/><use href="#c" x="552.80" y="768.42"/><use href="#c" x="565.40" y="768.42"/><use href="#c" x="578.00" y="768.42"/><use href="#c" x="590.60" y="768.42"/><use href="#c" x="603.20" y="768.42"/><use href="#c" x="615.80" y="768.42"/><use href="#c" x="628.40" y="768.42"/><use href="#c" x="641.00" y="768.42"/><use href="#c" x="653.60" y="768.42"/><use href="#c" x="666.20" y="768.42"/><use href="#c" x="678.80" y="768.42"/><use href="#c" x="691.40" y="768.42"/><use href="#c" x="704.00" y="768.42"/><use href="#c" x="716.60" y="768.42"/><use href="#c" x="729.20" y="768.42"/><use href="#c" x="741.80" y="768.42"/><use href="#c" x="754.40" y="768.42"/><use href="#c" x="767.00" y="768.42"/><use href="#c" x="779.60" y="768.42"/><use href="#c" x="792.20" y="768.42"/><use href="#c" x="804.80" y="768.42"/><use href="#c" x="817.40" y="768.42"/><use href="#c" x="830.00" y="768.42"/><use href="#c" x="842.60" y="768.42"/><use href="#c" x="855.20" y="768.42"/><use href="#c" x="867.80" y="768.42"/><use href="#c" x="880.40" y="768.42"/><use href="#c" x="893.00" y="768.42"/><use href="#c" x="905.60" y="768.42"/><use href="#c" x="540.20" y="783.22"/><use href="#c" x="552.80" y="783.22"/><use href="#c" x="565.40" y="783.22"/><use href="#c" x="578.00" y="783.22"/><use href="#c" x="590.60" y="783.22"/><use href="#c" x="603.20" y="783.22"/><use href="#c" x="615.80" y="783.22"/><use href="#c" x="628.40" y="783.22"/><use href="#c" x="641.00" y="783.22"/><use href="#c" x="653.60" y="783.22"/><use href="#c" x="666.20" y="783.22"/><use href="#c" x="678.80" y="783.22"/><use href="#c" x="691.40" y="783.22"/></g>
<path d="M14 221.3 L1003 221.3" fill="none" stroke="#8c8c8c" stroke-width="1.1"/>
<path d="M14.6 221 L14.6 825" fill="none" stroke="#333" stroke-width="1.5"/>
<path d="M14 824 L1003 824" fill="none" stroke="#333" stroke-width="2.2"/>
<path d="M1002.5 221 L1002.5 823" fill="none" stroke="#bdbdbd" stroke-width="1.2"/>
<path d="M26.2 382 L150.6 382" fill="none" stroke="#b4b4b4" stroke-width="1.2"/>
<path d="M25.9 530.5 L150 530.5" fill="none" stroke="#8a8a8a" stroke-width="1.1"/>
<path d="M26 592.4 L96.6 592.4 L96.6 575.4 L174.7 575.4" fill="none" stroke="#888" stroke-width="1.25"/>
<path d="M26 735.3 L150.4 735.3" fill="none" stroke="#acacac" stroke-width="1.3"/>
<path d="M874 352.4 L998.5 352.4" fill="none" stroke="#dcdcdc" stroke-width="1.1"/>
<path d="M873.3 396.5 L998 396.5" fill="none" stroke="#666" stroke-width="1.1"/>
<path d="M746 411.4 L998 411.4" fill="none" stroke="#707070" stroke-width="1.1"/>
<path d="M780.4 424.7 L947 424.7 L947 535.3 L997.6 535.3" fill="none" stroke="#a8a8a8" stroke-width="1.2"/>
<path d="M874.9 690.6 L999.75 690.6" fill="none" stroke="#b4b4b4" stroke-width="1.3"/>
<g class="t"><text x="27.3" y="260.66" font-size="17.07" font-weight="normal" text-anchor="start" stroke="#050505" stroke-width="0.8" stroke-linejoin="round" textLength="139.46" lengthAdjust="spacingAndGlyphs">24 Haziran 2018</text>
<text x="27.41" y="280.5" font-size="14.5" font-weight="bold" text-anchor="start" textLength="168.83" lengthAdjust="spacingAndGlyphs">Milletvekili Genel Seçimi</text>
<text x="496.1" y="253.5" font-size="20.6" font-weight="normal" text-anchor="middle" stroke="#050505" stroke-width="0.7" stroke-linejoin="round" textLength="226.49" lengthAdjust="spacingAndGlyphs">Partilerin %50 üzerinde</text>
<text x="499.78" y="280.9" font-size="20.6" font-weight="normal" text-anchor="middle" stroke="#050505" stroke-width="0.7" stroke-linejoin="round" textLength="219.06" lengthAdjust="spacingAndGlyphs">oy aldıkları ilçe sayıları</text>
<text x="984.3" y="260.66" font-size="16.55" font-weight="normal" text-anchor="end" stroke="#050505" stroke-width="0.8" stroke-linejoin="round" textLength="124.93" lengthAdjust="spacingAndGlyphs">14 Mayıs 2023</text>
<text x="990.21" y="280.5" font-size="14.5" font-weight="bold" text-anchor="end" textLength="169.43" lengthAdjust="spacingAndGlyphs">Milletvekili Genel Seçimi</text>
<text x="25.54" y="348.4" font-size="14.94" font-weight="bold" text-anchor="start" textLength="56.42" lengthAdjust="spacingAndGlyphs">Ak Parti</text>
<text x="26.5" y="375.11" font-size="21.55" font-weight="normal" text-anchor="start" stroke="#050505" stroke-width="0.85" stroke-linejoin="round" textLength="36.31" lengthAdjust="spacingAndGlyphs">417</text>
<text x="26.19" y="494.15" font-size="13.7" font-weight="bold" text-anchor="start" textLength="29.31" lengthAdjust="spacingAndGlyphs">CHP</text>
<text x="25.95" y="521.37" font-size="21.47" font-weight="normal" text-anchor="start" stroke="#050505" stroke-width="0.85" stroke-linejoin="round" textLength="25.99" lengthAdjust="spacingAndGlyphs">26</text>
<text x="25.79" y="550.11" font-size="13.48" font-weight="bold" text-anchor="start" textLength="30.68" lengthAdjust="spacingAndGlyphs">HDP</text>
<text x="25.95" y="576.91" font-size="21.41" font-weight="normal" text-anchor="start" stroke="#050505" stroke-width="0.85" stroke-linejoin="round" textLength="26.29" lengthAdjust="spacingAndGlyphs">73</text>
<text x="25.72" y="669.22" font-size="11.04" font-weight="bold" text-anchor="start" textLength="78.76" lengthAdjust="spacingAndGlyphs">Hiçbir partinin</text>
<text x="26.32" y="684.1" font-size="11.04" font-weight="bold" text-anchor="start" textLength="74.53" lengthAdjust="spacingAndGlyphs">%50 üzerinde</text>
<text x="25.92" y="699.1" font-size="11.04" font-weight="bold" text-anchor="start" textLength="71.15" lengthAdjust="spacingAndGlyphs">oy alamadığı</text>
<text x="26.5" y="726.27" font-size="20.28" font-weight="normal" text-anchor="start" stroke="#050505" stroke-width="0.85" stroke-linejoin="round" textLength="78.41" lengthAdjust="spacingAndGlyphs">456 ilçe</text>
<text x="998.27" y="318.37" font-size="12.19" font-weight="bold" text-anchor="end" textLength="45.05" lengthAdjust="spacingAndGlyphs">Ak Parti</text>
<text x="997.55" y="344.28" font-size="21.38" font-weight="normal" text-anchor="end" stroke="#050505" stroke-width="0.85" stroke-linejoin="round" textLength="38.15" lengthAdjust="spacingAndGlyphs">175</text>
<text x="998.12" y="367.11" font-size="11.96" font-weight="bold" text-anchor="end" textLength="27.37" lengthAdjust="spacingAndGlyphs">MHP</text>
<text x="997.7" y="393.27" font-size="20.01" font-weight="normal" text-anchor="end" stroke="#050505" stroke-width="0.85" stroke-linejoin="round" textLength="12.71" lengthAdjust="spacingAndGlyphs">2</text>
<text x="998.22" y="422.54" font-size="11.83" font-weight="bold" text-anchor="end" textLength="24.22" lengthAdjust="spacingAndGlyphs">CHP</text>
<text x="998.4" y="449.4" font-size="20.88" font-weight="normal" text-anchor="end" stroke="#050505" stroke-width="0.85" stroke-linejoin="round" textLength="26.66" lengthAdjust="spacingAndGlyphs">21</text>
<text x="997.72" y="502.47" font-size="12.0" font-weight="bold" text-anchor="end" textLength="22.21" lengthAdjust="spacingAndGlyphs">YSP</text>
<text x="997.5" y="528.25" font-size="20.25" font-weight="normal" text-anchor="end" stroke="#050505" stroke-width="0.85" stroke-linejoin="round" textLength="26.04" lengthAdjust="spacingAndGlyphs">62</text>
<text x="958.05" y="625.7" font-size="11.42" font-weight="bold" text-anchor="middle" textLength="78.58" lengthAdjust="spacingAndGlyphs">Hiçbir partinin</text>
<text x="960.29" y="641.2" font-size="11.42" font-weight="bold" text-anchor="middle" textLength="75.32" lengthAdjust="spacingAndGlyphs">%50 üzerinde</text>
<text x="959.17" y="655.8" font-size="11.42" font-weight="bold" text-anchor="middle" textLength="71.43" lengthAdjust="spacingAndGlyphs">oy alamadığı</text>
<text x="959.0" y="682.66" font-size="19.15" font-weight="normal" text-anchor="middle" stroke="#050505" stroke-width="0.85" stroke-linejoin="round" textLength="76.8" lengthAdjust="spacingAndGlyphs">713 ilçe</text>
</g></svg></body></html>
